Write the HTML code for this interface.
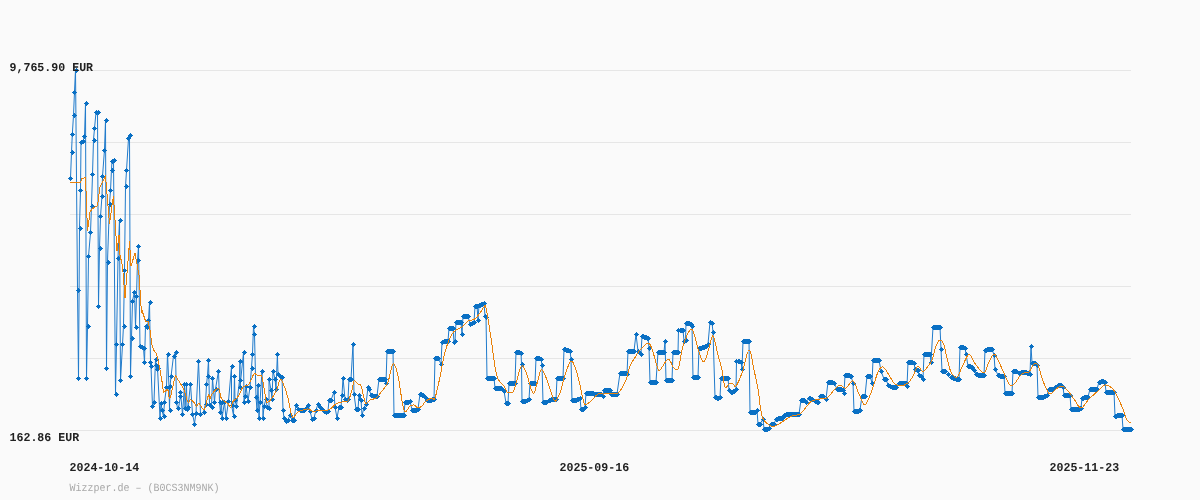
<!DOCTYPE html>
<html><head><meta charset="utf-8">
<style>
html,body{margin:0;padding:0;background:#fafafa;width:1200px;height:500px;overflow:hidden}
svg{display:block}
.t{font-family:"Liberation Mono",monospace;font-weight:bold;font-size:12px;fill:#222;text-rendering:geometricPrecision}
.w{font-family:"Liberation Mono",monospace;font-size:11px;fill:#a8a8a8;text-rendering:geometricPrecision}
</style></head><body>
<svg width="1200" height="500" viewBox="0 0 1200 500" style="will-change:transform">
<g stroke="#e6e6e6" stroke-width="1" shape-rendering="crispEdges">
<line x1="70" y1="70.5" x2="1131" y2="70.5"/>
<line x1="70" y1="142.5" x2="1131" y2="142.5"/>
<line x1="70" y1="214.5" x2="1131" y2="214.5"/>
<line x1="70" y1="286.5" x2="1131" y2="286.5"/>
<line x1="70" y1="358.5" x2="1131" y2="358.5"/>
<line x1="70" y1="430.5" x2="1131" y2="430.5"/>
</g>
<path d="M70.5 178.5 L71.5 152.2 L72.3 134.5 L73.5 115.3 L74.5 91.5 L75.5 69.5 L77.5 289.5 L78.5 378.5 L79.5 227.5 L80.5 190.5 L81 142.3 L83 141 L84.5 136.5 L85.5 103.3 L86.5 378.5 L87.5 326.5 L88.5 256.5 L90.5 232.5 L91.5 205.5 L92.5 174.5 L93.5 139.5 L94.5 128.5 L96 112.4 L97.5 111.5 L98.5 305.5 L99.5 248.5 L100.5 216.5 L102 195.5 L102.5 176.5 L104.5 149.5 L105.5 120.3 L106.5 368.5 L107.5 261.5 L109.5 203.5 L110.5 190.5 L111.5 169.5 L112 161 L113.5 159.5 L115.5 393.5 L116.5 343.5 L118 258 L119.5 219.5 L120.5 380.5 L122.5 344.5 L123.5 325.5 L124.5 270.5 L125.5 186.5 L126.5 170.5 L128.5 138.5 L129.5 135.3 L130.5 375.5 L131.5 337.5 L132.5 301 L134.5 291.5 L135.5 327 L136.5 296 L137.5 260.5 L138.5 246.5 L140 346 L142 347 L143.5 348 L144.5 362.5 L145.5 325.5 L147 327 L148.5 320.5 L149.5 302.5 L150.5 362 L151 366.5 L152.5 406.5 L154 401.5 L155.5 359 L156 365 L157 369 L157.5 368 L160 417.5 L161 403 L162 410 L163.5 416.5 L164.5 402 L166.5 387 L167.5 353.5 L169 387 L169.5 409.5 L170 386.5 L171 376.5 L173.5 356 L175.5 352.5 L176.5 401.5 L177.5 408.5 L178.5 408 L180.5 396 L180.5 392 L182.5 414.5 L184.5 384.5 L185 408 L186.5 384 L187 409 L188 407 L190.5 384 L192.5 414 L194.5 423.5 L196 413 L198.5 361 L200.5 414 L203.5 412 L205.5 404 L206.5 384.5 L207.5 375.5 L208.5 360 L209.5 405 L211.5 407 L212.5 378.5 L214.5 402 L215.5 389 L218.5 371 L219.5 402 L220.5 412.5 L221.5 402 L222 418.5 L224.5 402 L226 418.5 L228.5 401 L231.5 366.5 L231.5 405 L233.5 415.5 L234.5 376.5 L235 400 L236.5 406 L239.5 380.5 L240 361 L240 387 L243.5 352.5 L244 402 L245 396 L246 386 L248 401 L250 387 L251.5 367.5 L252.5 353.5 L253.5 326.5 L254.5 334.5 L256 397 L257 410 L258 385 L259 418 L260 402 L262 371 L263 418 L264 406 L266 399 L267 407 L269 408 L269 379 L271 390 L272 399 L273 371 L275 379 L276 389 L277.4 354 L278 374 L280 376 L282 377 L283 410 L284 418 L286 421 L288 420 L290 415 L292 420 L294 420 L296 405 L298 409 L300 410 L302 410 L304 410 L308 405 L310 411 L312 419 L314 418 L316 410 L318 404 L320 407 L322 409 L324 411 L326 412 L328 411 L329 400 L331 400 L334 392 L335 407 L337 418 L339 407 L341 407 L342 395 L343 378 L345 399 L347 400 L348 399 L349 379 L351 379 L353 344 L354 394 L356 409 L358 409 L359 395 L360 399 L361 400 L362 415 L364 408 L366 404 L368 387 L369 389 L371 395 L374 396 L377 396 L379 379 L382 379 L385 379 L386 383 L387 351 L390 351 L393 351 L394 415 L397 415 L400 415 L404 415 L405 402 L408 402 L410 401 L412 410 L415 410 L418 409 L420 394 L423 395 L425 397 L427 400 L430 400 L433 399 L434 399 L435 358 L438 358 L441 364 L442 342 L444 341 L448 341 L449 328 L451 328 L453 328 L454 342 L455 341 L456 322 L459 322 L461 322 L462 334 L463 316 L466 316 L468 316 L470 324 L472 323 L474 322 L475 306 L477 306 L478 320 L479 305 L482 304 L484 303 L485 316 L486 317 L487 378 L490 378 L494 378 L495 388 L498 388 L501 388 L503 390 L504 391 L506 403 L508 403 L509 383 L512 383 L515 383 L516 352 L519 352 L521 353 L521.5 364 L522 401 L525 401 L527 400 L529 399 L530 383 L533 383 L535 383 L536 358 L539 358 L541 359 L542 365 L543 402 L546 402 L549 400 L552 399 L556 399 L557 378 L560 378 L563 378 L564 349 L568 350 L570 351 L571 359 L572 400 L575 400 L578 399 L580 398 L581 409 L583 409 L585 407 L586 393 L589 393 L592 393 L595 394 L598 394 L601 394 L603 396 L604 390 L607 390 L610 390 L611 394 L614 394 L617 394 L620 373 L623 373 L626 373 L627 374 L628 351 L631 351 L634 351 L636 334 L638 351 L640 353 L641 354 L642 336 L645 337 L648 338 L649 348 L650 382 L653 382 L656 382 L658 352 L661 352 L664 352 L665 341 L666 380 L669 380 L672 380 L673 352 L676 352 L678 352 L678.5 330 L681 330 L683 330 L684 341 L685.5 340 L686 323 L689 323 L691 324 L692 326 L693 377 L696 377 L698 377 L699 348 L703 347 L706 346 L708 344 L710 322 L712 323 L713 332 L715 397 L718 398 L720 397 L721 378 L724 378 L728 378 L729 390 L731 392 L734 391 L736 389 L736.5 361 L739 361 L741 362 L742 369 L743 341 L746 341 L749 341 L750 412 L752 412 L755 412 L757 410 L758 424 L760 424 L763 419 L764 429 L767 429 L769 428 L771 424 L774 424 L776 419 L779 418 L782 418 L784 415 L788 414 L792 414 L796 414 L799 414 L801 400 L804 400 L806 402 L809 398 L812 399 L815 401 L818 402 L820 396 L823 396 L826 399 L828 382 L832 382 L834 383 L837 389 L841 389 L843 390 L844 393 L845 375 L848 375 L851 376 L853 383 L854 411 L857 411 L860 410 L862 396 L865 396 L867 376 L870 376 L872 383 L873 360 L876 360 L879 360 L881 371 L884 379 L886 379 L888 385 L892 387 L896 387 L899 383 L903 383 L906 383 L907 386 L908 362 L912 362 L914 363 L915 369 L918 370 L919 375 L921 376 L923 379 L924 354 L927 354 L930 354 L931 362 L933 327 L937 327 L940 327 L941 349 L942 371 L945 371 L948 374 L951 377 L954 378 L957 379 L959 379 L960 347 L963 347 L965 348 L966 354 L968 366 L972 367 L974 370 L976 374 L979 375 L982 375 L984 375 L985 350 L988 349 L992 349 L994 355 L995 369 L998 375 L1001 376 L1004 376 L1005 393 L1009 393 L1012 393 L1013 371 L1016 371 L1019 373 L1021 372 L1025 372 L1028 373 L1030 374 L1031 346 L1032 363 L1035 363 L1037 365 L1038 397 L1042 397 L1045 396 L1047 395 L1049 389 L1052 389 L1055 387 L1058 385 L1061 385 L1063 387 L1064 395 L1067 395 L1070 395 L1071 409 L1074 409 L1078 409 L1081 408 L1082 398 L1085 397 L1088 397 L1090 389 L1093 389 L1097 389 L1099 382 L1102 381 L1105 382 L1106 392 L1109 392 L1112 392 L1114 392 L1115 416 L1118 415 L1122 415 L1123 429 L1127 429 L1131 429" fill="none" stroke="#1f7acb" stroke-width="1" stroke-linejoin="round"/>
<path d="M70 176h1v1h1v1h1v1h-1v1h-1v1h-1v-1h-1v-1h-1v-1h1v-1h1zM72 150h1v1h1v1h1v1h-1v1h-1v1h-1v-1h-1v-1h-1v-1h1v-1h1zM72 132h1v1h1v1h1v1h-1v1h-1v1h-1v-1h-1v-1h-1v-1h1v-1h1zM74 113h1v1h1v1h1v1h-1v1h-1v1h-1v-1h-1v-1h-1v-1h1v-1h1zM74 90h1v1h1v1h1v1h-1v1h-1v1h-1v-1h-1v-1h-1v-1h1v-1h1zM76 68h1v1h1v1h1v1h-1v1h-1v1h-1v-1h-1v-1h-1v-1h1v-1h1zM78 288h1v1h1v1h1v1h-1v1h-1v1h-1v-1h-1v-1h-1v-1h1v-1h1zM78 376h1v1h1v1h1v1h-1v1h-1v1h-1v-1h-1v-1h-1v-1h1v-1h1zM80 226h1v1h1v1h1v1h-1v1h-1v1h-1v-1h-1v-1h-1v-1h1v-1h1zM80 188h1v1h1v1h1v1h-1v1h-1v1h-1v-1h-1v-1h-1v-1h1v-1h1zM81 140h1v1h1v1h1v1h-1v1h-1v1h-1v-1h-1v-1h-1v-1h1v-1h1zM83 139h1v1h1v1h1v1h-1v1h-1v1h-1v-1h-1v-1h-1v-1h1v-1h1zM84 134h1v1h1v1h1v1h-1v1h-1v1h-1v-1h-1v-1h-1v-1h1v-1h1zM86 101h1v1h1v1h1v1h-1v1h-1v1h-1v-1h-1v-1h-1v-1h1v-1h1zM86 376h1v1h1v1h1v1h-1v1h-1v1h-1v-1h-1v-1h-1v-1h1v-1h1zM88 324h1v1h1v1h1v1h-1v1h-1v1h-1v-1h-1v-1h-1v-1h1v-1h1zM88 254h1v1h1v1h1v1h-1v1h-1v1h-1v-1h-1v-1h-1v-1h1v-1h1zM90 230h1v1h1v1h1v1h-1v1h-1v1h-1v-1h-1v-1h-1v-1h1v-1h1zM92 204h1v1h1v1h1v1h-1v1h-1v1h-1v-1h-1v-1h-1v-1h1v-1h1zM92 172h1v1h1v1h1v1h-1v1h-1v1h-1v-1h-1v-1h-1v-1h1v-1h1zM94 138h1v1h1v1h1v1h-1v1h-1v1h-1v-1h-1v-1h-1v-1h1v-1h1zM94 126h1v1h1v1h1v1h-1v1h-1v1h-1v-1h-1v-1h-1v-1h1v-1h1zM96 110h1v1h1v1h1v1h-1v1h-1v1h-1v-1h-1v-1h-1v-1h1v-1h1zM98 110h1v1h1v1h1v1h-1v1h-1v1h-1v-1h-1v-1h-1v-1h1v-1h1zM98 304h1v1h1v1h1v1h-1v1h-1v1h-1v-1h-1v-1h-1v-1h1v-1h1zM100 246h1v1h1v1h1v1h-1v1h-1v1h-1v-1h-1v-1h-1v-1h1v-1h1zM100 214h1v1h1v1h1v1h-1v1h-1v1h-1v-1h-1v-1h-1v-1h1v-1h1zM102 194h1v1h1v1h1v1h-1v1h-1v1h-1v-1h-1v-1h-1v-1h1v-1h1zM102 174h1v1h1v1h1v1h-1v1h-1v1h-1v-1h-1v-1h-1v-1h1v-1h1zM104 148h1v1h1v1h1v1h-1v1h-1v1h-1v-1h-1v-1h-1v-1h1v-1h1zM106 118h1v1h1v1h1v1h-1v1h-1v1h-1v-1h-1v-1h-1v-1h1v-1h1zM106 366h1v1h1v1h1v1h-1v1h-1v1h-1v-1h-1v-1h-1v-1h1v-1h1zM108 260h1v1h1v1h1v1h-1v1h-1v1h-1v-1h-1v-1h-1v-1h1v-1h1zM110 202h1v1h1v1h1v1h-1v1h-1v1h-1v-1h-1v-1h-1v-1h1v-1h1zM110 188h1v1h1v1h1v1h-1v1h-1v1h-1v-1h-1v-1h-1v-1h1v-1h1zM112 168h1v1h1v1h1v1h-1v1h-1v1h-1v-1h-1v-1h-1v-1h1v-1h1zM112 159h1v1h1v1h1v1h-1v1h-1v1h-1v-1h-1v-1h-1v-1h1v-1h1zM114 158h1v1h1v1h1v1h-1v1h-1v1h-1v-1h-1v-1h-1v-1h1v-1h1zM116 392h1v1h1v1h1v1h-1v1h-1v1h-1v-1h-1v-1h-1v-1h1v-1h1zM116 342h1v1h1v1h1v1h-1v1h-1v1h-1v-1h-1v-1h-1v-1h1v-1h1zM118 256h1v1h1v1h1v1h-1v1h-1v1h-1v-1h-1v-1h-1v-1h1v-1h1zM120 218h1v1h1v1h1v1h-1v1h-1v1h-1v-1h-1v-1h-1v-1h1v-1h1zM120 378h1v1h1v1h1v1h-1v1h-1v1h-1v-1h-1v-1h-1v-1h1v-1h1zM122 342h1v1h1v1h1v1h-1v1h-1v1h-1v-1h-1v-1h-1v-1h1v-1h1zM124 324h1v1h1v1h1v1h-1v1h-1v1h-1v-1h-1v-1h-1v-1h1v-1h1zM124 268h1v1h1v1h1v1h-1v1h-1v1h-1v-1h-1v-1h-1v-1h1v-1h1zM126 184h1v1h1v1h1v1h-1v1h-1v1h-1v-1h-1v-1h-1v-1h1v-1h1zM126 168h1v1h1v1h1v1h-1v1h-1v1h-1v-1h-1v-1h-1v-1h1v-1h1zM128 136h1v1h1v1h1v1h-1v1h-1v1h-1v-1h-1v-1h-1v-1h1v-1h1zM130 133h1v1h1v1h1v1h-1v1h-1v1h-1v-1h-1v-1h-1v-1h1v-1h1zM130 374h1v1h1v1h1v1h-1v1h-1v1h-1v-1h-1v-1h-1v-1h1v-1h1zM132 336h1v1h1v1h1v1h-1v1h-1v1h-1v-1h-1v-1h-1v-1h1v-1h1zM132 299h1v1h1v1h1v1h-1v1h-1v1h-1v-1h-1v-1h-1v-1h1v-1h1zM134 290h1v1h1v1h1v1h-1v1h-1v1h-1v-1h-1v-1h-1v-1h1v-1h1zM136 325h1v1h1v1h1v1h-1v1h-1v1h-1v-1h-1v-1h-1v-1h1v-1h1zM136 294h1v1h1v1h1v1h-1v1h-1v1h-1v-1h-1v-1h-1v-1h1v-1h1zM138 258h1v1h1v1h1v1h-1v1h-1v1h-1v-1h-1v-1h-1v-1h1v-1h1zM138 244h1v1h1v1h1v1h-1v1h-1v1h-1v-1h-1v-1h-1v-1h1v-1h1zM140 344h1v1h1v1h1v1h-1v1h-1v1h-1v-1h-1v-1h-1v-1h1v-1h1zM142 345h1v1h1v1h1v1h-1v1h-1v1h-1v-1h-1v-1h-1v-1h1v-1h1zM144 346h1v1h1v1h1v1h-1v1h-1v1h-1v-1h-1v-1h-1v-1h1v-1h1zM144 360h1v1h1v1h1v1h-1v1h-1v1h-1v-1h-1v-1h-1v-1h1v-1h1zM146 324h1v1h1v1h1v1h-1v1h-1v1h-1v-1h-1v-1h-1v-1h1v-1h1zM147 325h1v1h1v1h1v1h-1v1h-1v1h-1v-1h-1v-1h-1v-1h1v-1h1zM148 318h1v1h1v1h1v1h-1v1h-1v1h-1v-1h-1v-1h-1v-1h1v-1h1zM150 300h1v1h1v1h1v1h-1v1h-1v1h-1v-1h-1v-1h-1v-1h1v-1h1zM150 360h1v1h1v1h1v1h-1v1h-1v1h-1v-1h-1v-1h-1v-1h1v-1h1zM151 364h1v1h1v1h1v1h-1v1h-1v1h-1v-1h-1v-1h-1v-1h1v-1h1zM152 404h1v1h1v1h1v1h-1v1h-1v1h-1v-1h-1v-1h-1v-1h1v-1h1zM154 400h1v1h1v1h1v1h-1v1h-1v1h-1v-1h-1v-1h-1v-1h1v-1h1zM156 357h1v1h1v1h1v1h-1v1h-1v1h-1v-1h-1v-1h-1v-1h1v-1h1zM156 363h1v1h1v1h1v1h-1v1h-1v1h-1v-1h-1v-1h-1v-1h1v-1h1zM157 367h1v1h1v1h1v1h-1v1h-1v1h-1v-1h-1v-1h-1v-1h1v-1h1zM158 366h1v1h1v1h1v1h-1v1h-1v1h-1v-1h-1v-1h-1v-1h1v-1h1zM160 416h1v1h1v1h1v1h-1v1h-1v1h-1v-1h-1v-1h-1v-1h1v-1h1zM161 401h1v1h1v1h1v1h-1v1h-1v1h-1v-1h-1v-1h-1v-1h1v-1h1zM162 408h1v1h1v1h1v1h-1v1h-1v1h-1v-1h-1v-1h-1v-1h1v-1h1zM164 414h1v1h1v1h1v1h-1v1h-1v1h-1v-1h-1v-1h-1v-1h1v-1h1zM164 400h1v1h1v1h1v1h-1v1h-1v1h-1v-1h-1v-1h-1v-1h1v-1h1zM166 385h1v1h1v1h1v1h-1v1h-1v1h-1v-1h-1v-1h-1v-1h1v-1h1zM168 352h1v1h1v1h1v1h-1v1h-1v1h-1v-1h-1v-1h-1v-1h1v-1h1zM169 385h1v1h1v1h1v1h-1v1h-1v1h-1v-1h-1v-1h-1v-1h1v-1h1zM170 408h1v1h1v1h1v1h-1v1h-1v1h-1v-1h-1v-1h-1v-1h1v-1h1zM170 384h1v1h1v1h1v1h-1v1h-1v1h-1v-1h-1v-1h-1v-1h1v-1h1zM171 374h1v1h1v1h1v1h-1v1h-1v1h-1v-1h-1v-1h-1v-1h1v-1h1zM174 354h1v1h1v1h1v1h-1v1h-1v1h-1v-1h-1v-1h-1v-1h1v-1h1zM176 350h1v1h1v1h1v1h-1v1h-1v1h-1v-1h-1v-1h-1v-1h1v-1h1zM176 400h1v1h1v1h1v1h-1v1h-1v1h-1v-1h-1v-1h-1v-1h1v-1h1zM178 406h1v1h1v1h1v1h-1v1h-1v1h-1v-1h-1v-1h-1v-1h1v-1h1zM178 406h1v1h1v1h1v1h-1v1h-1v1h-1v-1h-1v-1h-1v-1h1v-1h1zM180 394h1v1h1v1h1v1h-1v1h-1v1h-1v-1h-1v-1h-1v-1h1v-1h1zM180 390h1v1h1v1h1v1h-1v1h-1v1h-1v-1h-1v-1h-1v-1h1v-1h1zM182 412h1v1h1v1h1v1h-1v1h-1v1h-1v-1h-1v-1h-1v-1h1v-1h1zM184 382h1v1h1v1h1v1h-1v1h-1v1h-1v-1h-1v-1h-1v-1h1v-1h1zM185 406h1v1h1v1h1v1h-1v1h-1v1h-1v-1h-1v-1h-1v-1h1v-1h1zM186 382h1v1h1v1h1v1h-1v1h-1v1h-1v-1h-1v-1h-1v-1h1v-1h1zM187 407h1v1h1v1h1v1h-1v1h-1v1h-1v-1h-1v-1h-1v-1h1v-1h1zM188 405h1v1h1v1h1v1h-1v1h-1v1h-1v-1h-1v-1h-1v-1h1v-1h1zM190 382h1v1h1v1h1v1h-1v1h-1v1h-1v-1h-1v-1h-1v-1h1v-1h1zM192 412h1v1h1v1h1v1h-1v1h-1v1h-1v-1h-1v-1h-1v-1h1v-1h1zM194 422h1v1h1v1h1v1h-1v1h-1v1h-1v-1h-1v-1h-1v-1h1v-1h1zM196 411h1v1h1v1h1v1h-1v1h-1v1h-1v-1h-1v-1h-1v-1h1v-1h1zM198 359h1v1h1v1h1v1h-1v1h-1v1h-1v-1h-1v-1h-1v-1h1v-1h1zM200 412h1v1h1v1h1v1h-1v1h-1v1h-1v-1h-1v-1h-1v-1h1v-1h1zM204 410h1v1h1v1h1v1h-1v1h-1v1h-1v-1h-1v-1h-1v-1h1v-1h1zM206 402h1v1h1v1h1v1h-1v1h-1v1h-1v-1h-1v-1h-1v-1h1v-1h1zM206 382h1v1h1v1h1v1h-1v1h-1v1h-1v-1h-1v-1h-1v-1h1v-1h1zM208 374h1v1h1v1h1v1h-1v1h-1v1h-1v-1h-1v-1h-1v-1h1v-1h1zM208 358h1v1h1v1h1v1h-1v1h-1v1h-1v-1h-1v-1h-1v-1h1v-1h1zM210 403h1v1h1v1h1v1h-1v1h-1v1h-1v-1h-1v-1h-1v-1h1v-1h1zM212 405h1v1h1v1h1v1h-1v1h-1v1h-1v-1h-1v-1h-1v-1h1v-1h1zM212 376h1v1h1v1h1v1h-1v1h-1v1h-1v-1h-1v-1h-1v-1h1v-1h1zM214 400h1v1h1v1h1v1h-1v1h-1v1h-1v-1h-1v-1h-1v-1h1v-1h1zM216 387h1v1h1v1h1v1h-1v1h-1v1h-1v-1h-1v-1h-1v-1h1v-1h1zM218 369h1v1h1v1h1v1h-1v1h-1v1h-1v-1h-1v-1h-1v-1h1v-1h1zM220 400h1v1h1v1h1v1h-1v1h-1v1h-1v-1h-1v-1h-1v-1h1v-1h1zM220 410h1v1h1v1h1v1h-1v1h-1v1h-1v-1h-1v-1h-1v-1h1v-1h1zM222 400h1v1h1v1h1v1h-1v1h-1v1h-1v-1h-1v-1h-1v-1h1v-1h1zM222 416h1v1h1v1h1v1h-1v1h-1v1h-1v-1h-1v-1h-1v-1h1v-1h1zM224 400h1v1h1v1h1v1h-1v1h-1v1h-1v-1h-1v-1h-1v-1h1v-1h1zM226 416h1v1h1v1h1v1h-1v1h-1v1h-1v-1h-1v-1h-1v-1h1v-1h1zM228 399h1v1h1v1h1v1h-1v1h-1v1h-1v-1h-1v-1h-1v-1h1v-1h1zM232 364h1v1h1v1h1v1h-1v1h-1v1h-1v-1h-1v-1h-1v-1h1v-1h1zM232 403h1v1h1v1h1v1h-1v1h-1v1h-1v-1h-1v-1h-1v-1h1v-1h1zM234 414h1v1h1v1h1v1h-1v1h-1v1h-1v-1h-1v-1h-1v-1h1v-1h1zM234 374h1v1h1v1h1v1h-1v1h-1v1h-1v-1h-1v-1h-1v-1h1v-1h1zM235 398h1v1h1v1h1v1h-1v1h-1v1h-1v-1h-1v-1h-1v-1h1v-1h1zM236 404h1v1h1v1h1v1h-1v1h-1v1h-1v-1h-1v-1h-1v-1h1v-1h1zM240 378h1v1h1v1h1v1h-1v1h-1v1h-1v-1h-1v-1h-1v-1h1v-1h1zM240 359h1v1h1v1h1v1h-1v1h-1v1h-1v-1h-1v-1h-1v-1h1v-1h1zM240 385h1v1h1v1h1v1h-1v1h-1v1h-1v-1h-1v-1h-1v-1h1v-1h1zM244 350h1v1h1v1h1v1h-1v1h-1v1h-1v-1h-1v-1h-1v-1h1v-1h1zM244 400h1v1h1v1h1v1h-1v1h-1v1h-1v-1h-1v-1h-1v-1h1v-1h1zM245 394h1v1h1v1h1v1h-1v1h-1v1h-1v-1h-1v-1h-1v-1h1v-1h1zM246 384h1v1h1v1h1v1h-1v1h-1v1h-1v-1h-1v-1h-1v-1h1v-1h1zM248 399h1v1h1v1h1v1h-1v1h-1v1h-1v-1h-1v-1h-1v-1h1v-1h1zM250 385h1v1h1v1h1v1h-1v1h-1v1h-1v-1h-1v-1h-1v-1h1v-1h1zM252 366h1v1h1v1h1v1h-1v1h-1v1h-1v-1h-1v-1h-1v-1h1v-1h1zM252 352h1v1h1v1h1v1h-1v1h-1v1h-1v-1h-1v-1h-1v-1h1v-1h1zM254 324h1v1h1v1h1v1h-1v1h-1v1h-1v-1h-1v-1h-1v-1h1v-1h1zM254 332h1v1h1v1h1v1h-1v1h-1v1h-1v-1h-1v-1h-1v-1h1v-1h1zM256 395h1v1h1v1h1v1h-1v1h-1v1h-1v-1h-1v-1h-1v-1h1v-1h1zM257 408h1v1h1v1h1v1h-1v1h-1v1h-1v-1h-1v-1h-1v-1h1v-1h1zM258 383h1v1h1v1h1v1h-1v1h-1v1h-1v-1h-1v-1h-1v-1h1v-1h1zM259 416h1v1h1v1h1v1h-1v1h-1v1h-1v-1h-1v-1h-1v-1h1v-1h1zM260 400h1v1h1v1h1v1h-1v1h-1v1h-1v-1h-1v-1h-1v-1h1v-1h1zM262 369h1v1h1v1h1v1h-1v1h-1v1h-1v-1h-1v-1h-1v-1h1v-1h1zM263 416h1v1h1v1h1v1h-1v1h-1v1h-1v-1h-1v-1h-1v-1h1v-1h1zM264 404h1v1h1v1h1v1h-1v1h-1v1h-1v-1h-1v-1h-1v-1h1v-1h1zM266 397h1v1h1v1h1v1h-1v1h-1v1h-1v-1h-1v-1h-1v-1h1v-1h1zM267 405h1v1h1v1h1v1h-1v1h-1v1h-1v-1h-1v-1h-1v-1h1v-1h1zM269 406h1v1h1v1h1v1h-1v1h-1v1h-1v-1h-1v-1h-1v-1h1v-1h1zM269 377h1v1h1v1h1v1h-1v1h-1v1h-1v-1h-1v-1h-1v-1h1v-1h1zM271 388h1v1h1v1h1v1h-1v1h-1v1h-1v-1h-1v-1h-1v-1h1v-1h1zM272 397h1v1h1v1h1v1h-1v1h-1v1h-1v-1h-1v-1h-1v-1h1v-1h1zM273 369h1v1h1v1h1v1h-1v1h-1v1h-1v-1h-1v-1h-1v-1h1v-1h1zM275 377h1v1h1v1h1v1h-1v1h-1v1h-1v-1h-1v-1h-1v-1h1v-1h1zM276 387h1v1h1v1h1v1h-1v1h-1v1h-1v-1h-1v-1h-1v-1h1v-1h1zM277 352h1v1h1v1h1v1h-1v1h-1v1h-1v-1h-1v-1h-1v-1h1v-1h1zM278 372h1v1h1v1h1v1h-1v1h-1v1h-1v-1h-1v-1h-1v-1h1v-1h1zM280 374h1v1h1v1h1v1h-1v1h-1v1h-1v-1h-1v-1h-1v-1h1v-1h1zM282 375h1v1h1v1h1v1h-1v1h-1v1h-1v-1h-1v-1h-1v-1h1v-1h1zM283 408h1v1h1v1h1v1h-1v1h-1v1h-1v-1h-1v-1h-1v-1h1v-1h1zM284 416h1v1h1v1h1v1h-1v1h-1v1h-1v-1h-1v-1h-1v-1h1v-1h1zM286 419h1v1h1v1h1v1h-1v1h-1v1h-1v-1h-1v-1h-1v-1h1v-1h1zM288 418h1v1h1v1h1v1h-1v1h-1v1h-1v-1h-1v-1h-1v-1h1v-1h1zM290 413h1v1h1v1h1v1h-1v1h-1v1h-1v-1h-1v-1h-1v-1h1v-1h1zM292 418h1v1h1v1h1v1h-1v1h-1v1h-1v-1h-1v-1h-1v-1h1v-1h1zM293 418h1v1h1v1h1v1h-1v1h-1v1h-1v-1h-1v-1h-1v-1h1v-1h1zM294 418h1v1h1v1h1v1h-1v1h-1v1h-1v-1h-1v-1h-1v-1h1v-1h1zM296 403h1v1h1v1h1v1h-1v1h-1v1h-1v-1h-1v-1h-1v-1h1v-1h1zM298 407h1v1h1v1h1v1h-1v1h-1v1h-1v-1h-1v-1h-1v-1h1v-1h1zM300 408h1v1h1v1h1v1h-1v1h-1v1h-1v-1h-1v-1h-1v-1h1v-1h1zM301 408h1v1h1v1h1v1h-1v1h-1v1h-1v-1h-1v-1h-1v-1h1v-1h1zM302 408h1v1h1v1h1v1h-1v1h-1v1h-1v-1h-1v-1h-1v-1h1v-1h1zM303 408h1v1h1v1h1v1h-1v1h-1v1h-1v-1h-1v-1h-1v-1h1v-1h1zM304 408h1v1h1v1h1v1h-1v1h-1v1h-1v-1h-1v-1h-1v-1h1v-1h1zM306 406h1v1h1v1h1v1h-1v1h-1v1h-1v-1h-1v-1h-1v-1h1v-1h1zM308 403h1v1h1v1h1v1h-1v1h-1v1h-1v-1h-1v-1h-1v-1h1v-1h1zM310 409h1v1h1v1h1v1h-1v1h-1v1h-1v-1h-1v-1h-1v-1h1v-1h1zM312 417h1v1h1v1h1v1h-1v1h-1v1h-1v-1h-1v-1h-1v-1h1v-1h1zM314 416h1v1h1v1h1v1h-1v1h-1v1h-1v-1h-1v-1h-1v-1h1v-1h1zM316 408h1v1h1v1h1v1h-1v1h-1v1h-1v-1h-1v-1h-1v-1h1v-1h1zM318 402h1v1h1v1h1v1h-1v1h-1v1h-1v-1h-1v-1h-1v-1h1v-1h1zM320 405h1v1h1v1h1v1h-1v1h-1v1h-1v-1h-1v-1h-1v-1h1v-1h1zM322 407h1v1h1v1h1v1h-1v1h-1v1h-1v-1h-1v-1h-1v-1h1v-1h1zM324 409h1v1h1v1h1v1h-1v1h-1v1h-1v-1h-1v-1h-1v-1h1v-1h1zM326 410h1v1h1v1h1v1h-1v1h-1v1h-1v-1h-1v-1h-1v-1h1v-1h1zM328 409h1v1h1v1h1v1h-1v1h-1v1h-1v-1h-1v-1h-1v-1h1v-1h1zM329 398h1v1h1v1h1v1h-1v1h-1v1h-1v-1h-1v-1h-1v-1h1v-1h1zM330 398h1v1h1v1h1v1h-1v1h-1v1h-1v-1h-1v-1h-1v-1h1v-1h1zM331 398h1v1h1v1h1v1h-1v1h-1v1h-1v-1h-1v-1h-1v-1h1v-1h1zM334 390h1v1h1v1h1v1h-1v1h-1v1h-1v-1h-1v-1h-1v-1h1v-1h1zM335 405h1v1h1v1h1v1h-1v1h-1v1h-1v-1h-1v-1h-1v-1h1v-1h1zM337 416h1v1h1v1h1v1h-1v1h-1v1h-1v-1h-1v-1h-1v-1h1v-1h1zM339 405h1v1h1v1h1v1h-1v1h-1v1h-1v-1h-1v-1h-1v-1h1v-1h1zM340 405h1v1h1v1h1v1h-1v1h-1v1h-1v-1h-1v-1h-1v-1h1v-1h1zM341 405h1v1h1v1h1v1h-1v1h-1v1h-1v-1h-1v-1h-1v-1h1v-1h1zM342 393h1v1h1v1h1v1h-1v1h-1v1h-1v-1h-1v-1h-1v-1h1v-1h1zM343 376h1v1h1v1h1v1h-1v1h-1v1h-1v-1h-1v-1h-1v-1h1v-1h1zM345 397h1v1h1v1h1v1h-1v1h-1v1h-1v-1h-1v-1h-1v-1h1v-1h1zM347 398h1v1h1v1h1v1h-1v1h-1v1h-1v-1h-1v-1h-1v-1h1v-1h1zM348 397h1v1h1v1h1v1h-1v1h-1v1h-1v-1h-1v-1h-1v-1h1v-1h1zM349 377h1v1h1v1h1v1h-1v1h-1v1h-1v-1h-1v-1h-1v-1h1v-1h1zM350 377h1v1h1v1h1v1h-1v1h-1v1h-1v-1h-1v-1h-1v-1h1v-1h1zM351 377h1v1h1v1h1v1h-1v1h-1v1h-1v-1h-1v-1h-1v-1h1v-1h1zM353 342h1v1h1v1h1v1h-1v1h-1v1h-1v-1h-1v-1h-1v-1h1v-1h1zM354 392h1v1h1v1h1v1h-1v1h-1v1h-1v-1h-1v-1h-1v-1h1v-1h1zM356 407h1v1h1v1h1v1h-1v1h-1v1h-1v-1h-1v-1h-1v-1h1v-1h1zM357 407h1v1h1v1h1v1h-1v1h-1v1h-1v-1h-1v-1h-1v-1h1v-1h1zM358 407h1v1h1v1h1v1h-1v1h-1v1h-1v-1h-1v-1h-1v-1h1v-1h1zM359 393h1v1h1v1h1v1h-1v1h-1v1h-1v-1h-1v-1h-1v-1h1v-1h1zM360 397h1v1h1v1h1v1h-1v1h-1v1h-1v-1h-1v-1h-1v-1h1v-1h1zM361 398h1v1h1v1h1v1h-1v1h-1v1h-1v-1h-1v-1h-1v-1h1v-1h1zM362 413h1v1h1v1h1v1h-1v1h-1v1h-1v-1h-1v-1h-1v-1h1v-1h1zM364 406h1v1h1v1h1v1h-1v1h-1v1h-1v-1h-1v-1h-1v-1h1v-1h1zM366 402h1v1h1v1h1v1h-1v1h-1v1h-1v-1h-1v-1h-1v-1h1v-1h1zM368 385h1v1h1v1h1v1h-1v1h-1v1h-1v-1h-1v-1h-1v-1h1v-1h1zM369 387h1v1h1v1h1v1h-1v1h-1v1h-1v-1h-1v-1h-1v-1h1v-1h1zM371 393h1v1h1v1h1v1h-1v1h-1v1h-1v-1h-1v-1h-1v-1h1v-1h1zM372 393h1v1h1v1h1v1h-1v1h-1v1h-1v-1h-1v-1h-1v-1h1v-1h1zM373 394h1v1h1v1h1v1h-1v1h-1v1h-1v-1h-1v-1h-1v-1h1v-1h1zM374 394h1v1h1v1h1v1h-1v1h-1v1h-1v-1h-1v-1h-1v-1h1v-1h1zM375 394h1v1h1v1h1v1h-1v1h-1v1h-1v-1h-1v-1h-1v-1h1v-1h1zM376 394h1v1h1v1h1v1h-1v1h-1v1h-1v-1h-1v-1h-1v-1h1v-1h1zM377 394h1v1h1v1h1v1h-1v1h-1v1h-1v-1h-1v-1h-1v-1h1v-1h1zM379 377h1v1h1v1h1v1h-1v1h-1v1h-1v-1h-1v-1h-1v-1h1v-1h1zM380 377h1v1h1v1h1v1h-1v1h-1v1h-1v-1h-1v-1h-1v-1h1v-1h1zM381 377h1v1h1v1h1v1h-1v1h-1v1h-1v-1h-1v-1h-1v-1h1v-1h1zM382 377h1v1h1v1h1v1h-1v1h-1v1h-1v-1h-1v-1h-1v-1h1v-1h1zM383 377h1v1h1v1h1v1h-1v1h-1v1h-1v-1h-1v-1h-1v-1h1v-1h1zM384 377h1v1h1v1h1v1h-1v1h-1v1h-1v-1h-1v-1h-1v-1h1v-1h1zM385 377h1v1h1v1h1v1h-1v1h-1v1h-1v-1h-1v-1h-1v-1h1v-1h1zM386 381h1v1h1v1h1v1h-1v1h-1v1h-1v-1h-1v-1h-1v-1h1v-1h1zM387 349h1v1h1v1h1v1h-1v1h-1v1h-1v-1h-1v-1h-1v-1h1v-1h1zM388 349h1v1h1v1h1v1h-1v1h-1v1h-1v-1h-1v-1h-1v-1h1v-1h1zM389 349h1v1h1v1h1v1h-1v1h-1v1h-1v-1h-1v-1h-1v-1h1v-1h1zM390 349h1v1h1v1h1v1h-1v1h-1v1h-1v-1h-1v-1h-1v-1h1v-1h1zM391 349h1v1h1v1h1v1h-1v1h-1v1h-1v-1h-1v-1h-1v-1h1v-1h1zM392 349h1v1h1v1h1v1h-1v1h-1v1h-1v-1h-1v-1h-1v-1h1v-1h1zM393 349h1v1h1v1h1v1h-1v1h-1v1h-1v-1h-1v-1h-1v-1h1v-1h1zM394 413h1v1h1v1h1v1h-1v1h-1v1h-1v-1h-1v-1h-1v-1h1v-1h1zM395 413h1v1h1v1h1v1h-1v1h-1v1h-1v-1h-1v-1h-1v-1h1v-1h1zM396 413h1v1h1v1h1v1h-1v1h-1v1h-1v-1h-1v-1h-1v-1h1v-1h1zM397 413h1v1h1v1h1v1h-1v1h-1v1h-1v-1h-1v-1h-1v-1h1v-1h1zM398 413h1v1h1v1h1v1h-1v1h-1v1h-1v-1h-1v-1h-1v-1h1v-1h1zM399 413h1v1h1v1h1v1h-1v1h-1v1h-1v-1h-1v-1h-1v-1h1v-1h1zM400 413h1v1h1v1h1v1h-1v1h-1v1h-1v-1h-1v-1h-1v-1h1v-1h1zM401 413h1v1h1v1h1v1h-1v1h-1v1h-1v-1h-1v-1h-1v-1h1v-1h1zM402 413h1v1h1v1h1v1h-1v1h-1v1h-1v-1h-1v-1h-1v-1h1v-1h1zM403 413h1v1h1v1h1v1h-1v1h-1v1h-1v-1h-1v-1h-1v-1h1v-1h1zM404 413h1v1h1v1h1v1h-1v1h-1v1h-1v-1h-1v-1h-1v-1h1v-1h1zM405 400h1v1h1v1h1v1h-1v1h-1v1h-1v-1h-1v-1h-1v-1h1v-1h1zM406 400h1v1h1v1h1v1h-1v1h-1v1h-1v-1h-1v-1h-1v-1h1v-1h1zM407 400h1v1h1v1h1v1h-1v1h-1v1h-1v-1h-1v-1h-1v-1h1v-1h1zM408 400h1v1h1v1h1v1h-1v1h-1v1h-1v-1h-1v-1h-1v-1h1v-1h1zM410 399h1v1h1v1h1v1h-1v1h-1v1h-1v-1h-1v-1h-1v-1h1v-1h1zM412 408h1v1h1v1h1v1h-1v1h-1v1h-1v-1h-1v-1h-1v-1h1v-1h1zM413 408h1v1h1v1h1v1h-1v1h-1v1h-1v-1h-1v-1h-1v-1h1v-1h1zM414 408h1v1h1v1h1v1h-1v1h-1v1h-1v-1h-1v-1h-1v-1h1v-1h1zM415 408h1v1h1v1h1v1h-1v1h-1v1h-1v-1h-1v-1h-1v-1h1v-1h1zM416 408h1v1h1v1h1v1h-1v1h-1v1h-1v-1h-1v-1h-1v-1h1v-1h1zM417 407h1v1h1v1h1v1h-1v1h-1v1h-1v-1h-1v-1h-1v-1h1v-1h1zM418 407h1v1h1v1h1v1h-1v1h-1v1h-1v-1h-1v-1h-1v-1h1v-1h1zM420 392h1v1h1v1h1v1h-1v1h-1v1h-1v-1h-1v-1h-1v-1h1v-1h1zM421 392h1v1h1v1h1v1h-1v1h-1v1h-1v-1h-1v-1h-1v-1h1v-1h1zM422 393h1v1h1v1h1v1h-1v1h-1v1h-1v-1h-1v-1h-1v-1h1v-1h1zM423 393h1v1h1v1h1v1h-1v1h-1v1h-1v-1h-1v-1h-1v-1h1v-1h1zM425 395h1v1h1v1h1v1h-1v1h-1v1h-1v-1h-1v-1h-1v-1h1v-1h1zM427 398h1v1h1v1h1v1h-1v1h-1v1h-1v-1h-1v-1h-1v-1h1v-1h1zM428 398h1v1h1v1h1v1h-1v1h-1v1h-1v-1h-1v-1h-1v-1h1v-1h1zM429 398h1v1h1v1h1v1h-1v1h-1v1h-1v-1h-1v-1h-1v-1h1v-1h1zM430 398h1v1h1v1h1v1h-1v1h-1v1h-1v-1h-1v-1h-1v-1h1v-1h1zM431 398h1v1h1v1h1v1h-1v1h-1v1h-1v-1h-1v-1h-1v-1h1v-1h1zM432 397h1v1h1v1h1v1h-1v1h-1v1h-1v-1h-1v-1h-1v-1h1v-1h1zM433 397h1v1h1v1h1v1h-1v1h-1v1h-1v-1h-1v-1h-1v-1h1v-1h1zM434 397h1v1h1v1h1v1h-1v1h-1v1h-1v-1h-1v-1h-1v-1h1v-1h1zM435 356h1v1h1v1h1v1h-1v1h-1v1h-1v-1h-1v-1h-1v-1h1v-1h1zM436 356h1v1h1v1h1v1h-1v1h-1v1h-1v-1h-1v-1h-1v-1h1v-1h1zM437 356h1v1h1v1h1v1h-1v1h-1v1h-1v-1h-1v-1h-1v-1h1v-1h1zM438 356h1v1h1v1h1v1h-1v1h-1v1h-1v-1h-1v-1h-1v-1h1v-1h1zM441 362h1v1h1v1h1v1h-1v1h-1v1h-1v-1h-1v-1h-1v-1h1v-1h1zM442 340h1v1h1v1h1v1h-1v1h-1v1h-1v-1h-1v-1h-1v-1h1v-1h1zM444 339h1v1h1v1h1v1h-1v1h-1v1h-1v-1h-1v-1h-1v-1h1v-1h1zM445 339h1v1h1v1h1v1h-1v1h-1v1h-1v-1h-1v-1h-1v-1h1v-1h1zM446 339h1v1h1v1h1v1h-1v1h-1v1h-1v-1h-1v-1h-1v-1h1v-1h1zM447 339h1v1h1v1h1v1h-1v1h-1v1h-1v-1h-1v-1h-1v-1h1v-1h1zM448 339h1v1h1v1h1v1h-1v1h-1v1h-1v-1h-1v-1h-1v-1h1v-1h1zM449 326h1v1h1v1h1v1h-1v1h-1v1h-1v-1h-1v-1h-1v-1h1v-1h1zM450 326h1v1h1v1h1v1h-1v1h-1v1h-1v-1h-1v-1h-1v-1h1v-1h1zM451 326h1v1h1v1h1v1h-1v1h-1v1h-1v-1h-1v-1h-1v-1h1v-1h1zM452 326h1v1h1v1h1v1h-1v1h-1v1h-1v-1h-1v-1h-1v-1h1v-1h1zM453 326h1v1h1v1h1v1h-1v1h-1v1h-1v-1h-1v-1h-1v-1h1v-1h1zM454 340h1v1h1v1h1v1h-1v1h-1v1h-1v-1h-1v-1h-1v-1h1v-1h1zM455 339h1v1h1v1h1v1h-1v1h-1v1h-1v-1h-1v-1h-1v-1h1v-1h1zM456 320h1v1h1v1h1v1h-1v1h-1v1h-1v-1h-1v-1h-1v-1h1v-1h1zM457 320h1v1h1v1h1v1h-1v1h-1v1h-1v-1h-1v-1h-1v-1h1v-1h1zM458 320h1v1h1v1h1v1h-1v1h-1v1h-1v-1h-1v-1h-1v-1h1v-1h1zM459 320h1v1h1v1h1v1h-1v1h-1v1h-1v-1h-1v-1h-1v-1h1v-1h1zM460 320h1v1h1v1h1v1h-1v1h-1v1h-1v-1h-1v-1h-1v-1h1v-1h1zM461 320h1v1h1v1h1v1h-1v1h-1v1h-1v-1h-1v-1h-1v-1h1v-1h1zM462 332h1v1h1v1h1v1h-1v1h-1v1h-1v-1h-1v-1h-1v-1h1v-1h1zM463 314h1v1h1v1h1v1h-1v1h-1v1h-1v-1h-1v-1h-1v-1h1v-1h1zM464 314h1v1h1v1h1v1h-1v1h-1v1h-1v-1h-1v-1h-1v-1h1v-1h1zM465 314h1v1h1v1h1v1h-1v1h-1v1h-1v-1h-1v-1h-1v-1h1v-1h1zM466 314h1v1h1v1h1v1h-1v1h-1v1h-1v-1h-1v-1h-1v-1h1v-1h1zM467 314h1v1h1v1h1v1h-1v1h-1v1h-1v-1h-1v-1h-1v-1h1v-1h1zM468 314h1v1h1v1h1v1h-1v1h-1v1h-1v-1h-1v-1h-1v-1h1v-1h1zM470 322h1v1h1v1h1v1h-1v1h-1v1h-1v-1h-1v-1h-1v-1h1v-1h1zM472 321h1v1h1v1h1v1h-1v1h-1v1h-1v-1h-1v-1h-1v-1h1v-1h1zM474 320h1v1h1v1h1v1h-1v1h-1v1h-1v-1h-1v-1h-1v-1h1v-1h1zM475 304h1v1h1v1h1v1h-1v1h-1v1h-1v-1h-1v-1h-1v-1h1v-1h1zM476 304h1v1h1v1h1v1h-1v1h-1v1h-1v-1h-1v-1h-1v-1h1v-1h1zM477 304h1v1h1v1h1v1h-1v1h-1v1h-1v-1h-1v-1h-1v-1h1v-1h1zM478 318h1v1h1v1h1v1h-1v1h-1v1h-1v-1h-1v-1h-1v-1h1v-1h1zM479 303h1v1h1v1h1v1h-1v1h-1v1h-1v-1h-1v-1h-1v-1h1v-1h1zM480 303h1v1h1v1h1v1h-1v1h-1v1h-1v-1h-1v-1h-1v-1h1v-1h1zM481 302h1v1h1v1h1v1h-1v1h-1v1h-1v-1h-1v-1h-1v-1h1v-1h1zM482 302h1v1h1v1h1v1h-1v1h-1v1h-1v-1h-1v-1h-1v-1h1v-1h1zM484 301h1v1h1v1h1v1h-1v1h-1v1h-1v-1h-1v-1h-1v-1h1v-1h1zM485 314h1v1h1v1h1v1h-1v1h-1v1h-1v-1h-1v-1h-1v-1h1v-1h1zM486 315h1v1h1v1h1v1h-1v1h-1v1h-1v-1h-1v-1h-1v-1h1v-1h1zM487 376h1v1h1v1h1v1h-1v1h-1v1h-1v-1h-1v-1h-1v-1h1v-1h1zM488 376h1v1h1v1h1v1h-1v1h-1v1h-1v-1h-1v-1h-1v-1h1v-1h1zM489 376h1v1h1v1h1v1h-1v1h-1v1h-1v-1h-1v-1h-1v-1h1v-1h1zM490 376h1v1h1v1h1v1h-1v1h-1v1h-1v-1h-1v-1h-1v-1h1v-1h1zM491 376h1v1h1v1h1v1h-1v1h-1v1h-1v-1h-1v-1h-1v-1h1v-1h1zM492 376h1v1h1v1h1v1h-1v1h-1v1h-1v-1h-1v-1h-1v-1h1v-1h1zM493 376h1v1h1v1h1v1h-1v1h-1v1h-1v-1h-1v-1h-1v-1h1v-1h1zM494 376h1v1h1v1h1v1h-1v1h-1v1h-1v-1h-1v-1h-1v-1h1v-1h1zM495 386h1v1h1v1h1v1h-1v1h-1v1h-1v-1h-1v-1h-1v-1h1v-1h1zM496 386h1v1h1v1h1v1h-1v1h-1v1h-1v-1h-1v-1h-1v-1h1v-1h1zM497 386h1v1h1v1h1v1h-1v1h-1v1h-1v-1h-1v-1h-1v-1h1v-1h1zM498 386h1v1h1v1h1v1h-1v1h-1v1h-1v-1h-1v-1h-1v-1h1v-1h1zM499 386h1v1h1v1h1v1h-1v1h-1v1h-1v-1h-1v-1h-1v-1h1v-1h1zM500 386h1v1h1v1h1v1h-1v1h-1v1h-1v-1h-1v-1h-1v-1h1v-1h1zM501 386h1v1h1v1h1v1h-1v1h-1v1h-1v-1h-1v-1h-1v-1h1v-1h1zM503 388h1v1h1v1h1v1h-1v1h-1v1h-1v-1h-1v-1h-1v-1h1v-1h1zM504 389h1v1h1v1h1v1h-1v1h-1v1h-1v-1h-1v-1h-1v-1h1v-1h1zM506 401h1v1h1v1h1v1h-1v1h-1v1h-1v-1h-1v-1h-1v-1h1v-1h1zM507 401h1v1h1v1h1v1h-1v1h-1v1h-1v-1h-1v-1h-1v-1h1v-1h1zM508 401h1v1h1v1h1v1h-1v1h-1v1h-1v-1h-1v-1h-1v-1h1v-1h1zM509 381h1v1h1v1h1v1h-1v1h-1v1h-1v-1h-1v-1h-1v-1h1v-1h1zM510 381h1v1h1v1h1v1h-1v1h-1v1h-1v-1h-1v-1h-1v-1h1v-1h1zM511 381h1v1h1v1h1v1h-1v1h-1v1h-1v-1h-1v-1h-1v-1h1v-1h1zM512 381h1v1h1v1h1v1h-1v1h-1v1h-1v-1h-1v-1h-1v-1h1v-1h1zM513 381h1v1h1v1h1v1h-1v1h-1v1h-1v-1h-1v-1h-1v-1h1v-1h1zM514 381h1v1h1v1h1v1h-1v1h-1v1h-1v-1h-1v-1h-1v-1h1v-1h1zM515 381h1v1h1v1h1v1h-1v1h-1v1h-1v-1h-1v-1h-1v-1h1v-1h1zM516 350h1v1h1v1h1v1h-1v1h-1v1h-1v-1h-1v-1h-1v-1h1v-1h1zM517 350h1v1h1v1h1v1h-1v1h-1v1h-1v-1h-1v-1h-1v-1h1v-1h1zM518 350h1v1h1v1h1v1h-1v1h-1v1h-1v-1h-1v-1h-1v-1h1v-1h1zM519 350h1v1h1v1h1v1h-1v1h-1v1h-1v-1h-1v-1h-1v-1h1v-1h1zM521 351h1v1h1v1h1v1h-1v1h-1v1h-1v-1h-1v-1h-1v-1h1v-1h1zM522 362h1v1h1v1h1v1h-1v1h-1v1h-1v-1h-1v-1h-1v-1h1v-1h1zM522 399h1v1h1v1h1v1h-1v1h-1v1h-1v-1h-1v-1h-1v-1h1v-1h1zM523 399h1v1h1v1h1v1h-1v1h-1v1h-1v-1h-1v-1h-1v-1h1v-1h1zM524 399h1v1h1v1h1v1h-1v1h-1v1h-1v-1h-1v-1h-1v-1h1v-1h1zM525 399h1v1h1v1h1v1h-1v1h-1v1h-1v-1h-1v-1h-1v-1h1v-1h1zM527 398h1v1h1v1h1v1h-1v1h-1v1h-1v-1h-1v-1h-1v-1h1v-1h1zM529 397h1v1h1v1h1v1h-1v1h-1v1h-1v-1h-1v-1h-1v-1h1v-1h1zM530 381h1v1h1v1h1v1h-1v1h-1v1h-1v-1h-1v-1h-1v-1h1v-1h1zM531 381h1v1h1v1h1v1h-1v1h-1v1h-1v-1h-1v-1h-1v-1h1v-1h1zM532 381h1v1h1v1h1v1h-1v1h-1v1h-1v-1h-1v-1h-1v-1h1v-1h1zM533 381h1v1h1v1h1v1h-1v1h-1v1h-1v-1h-1v-1h-1v-1h1v-1h1zM534 381h1v1h1v1h1v1h-1v1h-1v1h-1v-1h-1v-1h-1v-1h1v-1h1zM535 381h1v1h1v1h1v1h-1v1h-1v1h-1v-1h-1v-1h-1v-1h1v-1h1zM536 356h1v1h1v1h1v1h-1v1h-1v1h-1v-1h-1v-1h-1v-1h1v-1h1zM537 356h1v1h1v1h1v1h-1v1h-1v1h-1v-1h-1v-1h-1v-1h1v-1h1zM538 356h1v1h1v1h1v1h-1v1h-1v1h-1v-1h-1v-1h-1v-1h1v-1h1zM539 356h1v1h1v1h1v1h-1v1h-1v1h-1v-1h-1v-1h-1v-1h1v-1h1zM541 357h1v1h1v1h1v1h-1v1h-1v1h-1v-1h-1v-1h-1v-1h1v-1h1zM542 363h1v1h1v1h1v1h-1v1h-1v1h-1v-1h-1v-1h-1v-1h1v-1h1zM543 400h1v1h1v1h1v1h-1v1h-1v1h-1v-1h-1v-1h-1v-1h1v-1h1zM544 400h1v1h1v1h1v1h-1v1h-1v1h-1v-1h-1v-1h-1v-1h1v-1h1zM545 400h1v1h1v1h1v1h-1v1h-1v1h-1v-1h-1v-1h-1v-1h1v-1h1zM546 400h1v1h1v1h1v1h-1v1h-1v1h-1v-1h-1v-1h-1v-1h1v-1h1zM549 398h1v1h1v1h1v1h-1v1h-1v1h-1v-1h-1v-1h-1v-1h1v-1h1zM550 398h1v1h1v1h1v1h-1v1h-1v1h-1v-1h-1v-1h-1v-1h1v-1h1zM551 397h1v1h1v1h1v1h-1v1h-1v1h-1v-1h-1v-1h-1v-1h1v-1h1zM552 397h1v1h1v1h1v1h-1v1h-1v1h-1v-1h-1v-1h-1v-1h1v-1h1zM553 397h1v1h1v1h1v1h-1v1h-1v1h-1v-1h-1v-1h-1v-1h1v-1h1zM554 397h1v1h1v1h1v1h-1v1h-1v1h-1v-1h-1v-1h-1v-1h1v-1h1zM555 397h1v1h1v1h1v1h-1v1h-1v1h-1v-1h-1v-1h-1v-1h1v-1h1zM556 397h1v1h1v1h1v1h-1v1h-1v1h-1v-1h-1v-1h-1v-1h1v-1h1zM557 376h1v1h1v1h1v1h-1v1h-1v1h-1v-1h-1v-1h-1v-1h1v-1h1zM558 376h1v1h1v1h1v1h-1v1h-1v1h-1v-1h-1v-1h-1v-1h1v-1h1zM559 376h1v1h1v1h1v1h-1v1h-1v1h-1v-1h-1v-1h-1v-1h1v-1h1zM560 376h1v1h1v1h1v1h-1v1h-1v1h-1v-1h-1v-1h-1v-1h1v-1h1zM561 376h1v1h1v1h1v1h-1v1h-1v1h-1v-1h-1v-1h-1v-1h1v-1h1zM562 376h1v1h1v1h1v1h-1v1h-1v1h-1v-1h-1v-1h-1v-1h1v-1h1zM563 376h1v1h1v1h1v1h-1v1h-1v1h-1v-1h-1v-1h-1v-1h1v-1h1zM564 347h1v1h1v1h1v1h-1v1h-1v1h-1v-1h-1v-1h-1v-1h1v-1h1zM565 347h1v1h1v1h1v1h-1v1h-1v1h-1v-1h-1v-1h-1v-1h1v-1h1zM566 348h1v1h1v1h1v1h-1v1h-1v1h-1v-1h-1v-1h-1v-1h1v-1h1zM567 348h1v1h1v1h1v1h-1v1h-1v1h-1v-1h-1v-1h-1v-1h1v-1h1zM568 348h1v1h1v1h1v1h-1v1h-1v1h-1v-1h-1v-1h-1v-1h1v-1h1zM570 349h1v1h1v1h1v1h-1v1h-1v1h-1v-1h-1v-1h-1v-1h1v-1h1zM571 357h1v1h1v1h1v1h-1v1h-1v1h-1v-1h-1v-1h-1v-1h1v-1h1zM572 398h1v1h1v1h1v1h-1v1h-1v1h-1v-1h-1v-1h-1v-1h1v-1h1zM573 398h1v1h1v1h1v1h-1v1h-1v1h-1v-1h-1v-1h-1v-1h1v-1h1zM574 398h1v1h1v1h1v1h-1v1h-1v1h-1v-1h-1v-1h-1v-1h1v-1h1zM575 398h1v1h1v1h1v1h-1v1h-1v1h-1v-1h-1v-1h-1v-1h1v-1h1zM576 398h1v1h1v1h1v1h-1v1h-1v1h-1v-1h-1v-1h-1v-1h1v-1h1zM577 397h1v1h1v1h1v1h-1v1h-1v1h-1v-1h-1v-1h-1v-1h1v-1h1zM578 397h1v1h1v1h1v1h-1v1h-1v1h-1v-1h-1v-1h-1v-1h1v-1h1zM580 396h1v1h1v1h1v1h-1v1h-1v1h-1v-1h-1v-1h-1v-1h1v-1h1zM581 407h1v1h1v1h1v1h-1v1h-1v1h-1v-1h-1v-1h-1v-1h1v-1h1zM582 407h1v1h1v1h1v1h-1v1h-1v1h-1v-1h-1v-1h-1v-1h1v-1h1zM583 407h1v1h1v1h1v1h-1v1h-1v1h-1v-1h-1v-1h-1v-1h1v-1h1zM585 405h1v1h1v1h1v1h-1v1h-1v1h-1v-1h-1v-1h-1v-1h1v-1h1zM586 391h1v1h1v1h1v1h-1v1h-1v1h-1v-1h-1v-1h-1v-1h1v-1h1zM587 391h1v1h1v1h1v1h-1v1h-1v1h-1v-1h-1v-1h-1v-1h1v-1h1zM588 391h1v1h1v1h1v1h-1v1h-1v1h-1v-1h-1v-1h-1v-1h1v-1h1zM589 391h1v1h1v1h1v1h-1v1h-1v1h-1v-1h-1v-1h-1v-1h1v-1h1zM590 391h1v1h1v1h1v1h-1v1h-1v1h-1v-1h-1v-1h-1v-1h1v-1h1zM591 391h1v1h1v1h1v1h-1v1h-1v1h-1v-1h-1v-1h-1v-1h1v-1h1zM592 391h1v1h1v1h1v1h-1v1h-1v1h-1v-1h-1v-1h-1v-1h1v-1h1zM593 391h1v1h1v1h1v1h-1v1h-1v1h-1v-1h-1v-1h-1v-1h1v-1h1zM594 392h1v1h1v1h1v1h-1v1h-1v1h-1v-1h-1v-1h-1v-1h1v-1h1zM595 392h1v1h1v1h1v1h-1v1h-1v1h-1v-1h-1v-1h-1v-1h1v-1h1zM596 392h1v1h1v1h1v1h-1v1h-1v1h-1v-1h-1v-1h-1v-1h1v-1h1zM597 392h1v1h1v1h1v1h-1v1h-1v1h-1v-1h-1v-1h-1v-1h1v-1h1zM598 392h1v1h1v1h1v1h-1v1h-1v1h-1v-1h-1v-1h-1v-1h1v-1h1zM599 392h1v1h1v1h1v1h-1v1h-1v1h-1v-1h-1v-1h-1v-1h1v-1h1zM600 392h1v1h1v1h1v1h-1v1h-1v1h-1v-1h-1v-1h-1v-1h1v-1h1zM601 392h1v1h1v1h1v1h-1v1h-1v1h-1v-1h-1v-1h-1v-1h1v-1h1zM603 394h1v1h1v1h1v1h-1v1h-1v1h-1v-1h-1v-1h-1v-1h1v-1h1zM604 388h1v1h1v1h1v1h-1v1h-1v1h-1v-1h-1v-1h-1v-1h1v-1h1zM605 388h1v1h1v1h1v1h-1v1h-1v1h-1v-1h-1v-1h-1v-1h1v-1h1zM606 388h1v1h1v1h1v1h-1v1h-1v1h-1v-1h-1v-1h-1v-1h1v-1h1zM607 388h1v1h1v1h1v1h-1v1h-1v1h-1v-1h-1v-1h-1v-1h1v-1h1zM608 388h1v1h1v1h1v1h-1v1h-1v1h-1v-1h-1v-1h-1v-1h1v-1h1zM609 388h1v1h1v1h1v1h-1v1h-1v1h-1v-1h-1v-1h-1v-1h1v-1h1zM610 388h1v1h1v1h1v1h-1v1h-1v1h-1v-1h-1v-1h-1v-1h1v-1h1zM611 392h1v1h1v1h1v1h-1v1h-1v1h-1v-1h-1v-1h-1v-1h1v-1h1zM612 392h1v1h1v1h1v1h-1v1h-1v1h-1v-1h-1v-1h-1v-1h1v-1h1zM613 392h1v1h1v1h1v1h-1v1h-1v1h-1v-1h-1v-1h-1v-1h1v-1h1zM614 392h1v1h1v1h1v1h-1v1h-1v1h-1v-1h-1v-1h-1v-1h1v-1h1zM615 392h1v1h1v1h1v1h-1v1h-1v1h-1v-1h-1v-1h-1v-1h1v-1h1zM616 392h1v1h1v1h1v1h-1v1h-1v1h-1v-1h-1v-1h-1v-1h1v-1h1zM617 392h1v1h1v1h1v1h-1v1h-1v1h-1v-1h-1v-1h-1v-1h1v-1h1zM620 371h1v1h1v1h1v1h-1v1h-1v1h-1v-1h-1v-1h-1v-1h1v-1h1zM621 371h1v1h1v1h1v1h-1v1h-1v1h-1v-1h-1v-1h-1v-1h1v-1h1zM622 371h1v1h1v1h1v1h-1v1h-1v1h-1v-1h-1v-1h-1v-1h1v-1h1zM623 371h1v1h1v1h1v1h-1v1h-1v1h-1v-1h-1v-1h-1v-1h1v-1h1zM624 371h1v1h1v1h1v1h-1v1h-1v1h-1v-1h-1v-1h-1v-1h1v-1h1zM625 371h1v1h1v1h1v1h-1v1h-1v1h-1v-1h-1v-1h-1v-1h1v-1h1zM626 371h1v1h1v1h1v1h-1v1h-1v1h-1v-1h-1v-1h-1v-1h1v-1h1zM627 372h1v1h1v1h1v1h-1v1h-1v1h-1v-1h-1v-1h-1v-1h1v-1h1zM628 349h1v1h1v1h1v1h-1v1h-1v1h-1v-1h-1v-1h-1v-1h1v-1h1zM629 349h1v1h1v1h1v1h-1v1h-1v1h-1v-1h-1v-1h-1v-1h1v-1h1zM630 349h1v1h1v1h1v1h-1v1h-1v1h-1v-1h-1v-1h-1v-1h1v-1h1zM631 349h1v1h1v1h1v1h-1v1h-1v1h-1v-1h-1v-1h-1v-1h1v-1h1zM632 349h1v1h1v1h1v1h-1v1h-1v1h-1v-1h-1v-1h-1v-1h1v-1h1zM633 349h1v1h1v1h1v1h-1v1h-1v1h-1v-1h-1v-1h-1v-1h1v-1h1zM634 349h1v1h1v1h1v1h-1v1h-1v1h-1v-1h-1v-1h-1v-1h1v-1h1zM636 332h1v1h1v1h1v1h-1v1h-1v1h-1v-1h-1v-1h-1v-1h1v-1h1zM638 349h1v1h1v1h1v1h-1v1h-1v1h-1v-1h-1v-1h-1v-1h1v-1h1zM640 351h1v1h1v1h1v1h-1v1h-1v1h-1v-1h-1v-1h-1v-1h1v-1h1zM641 352h1v1h1v1h1v1h-1v1h-1v1h-1v-1h-1v-1h-1v-1h1v-1h1zM642 334h1v1h1v1h1v1h-1v1h-1v1h-1v-1h-1v-1h-1v-1h1v-1h1zM643 334h1v1h1v1h1v1h-1v1h-1v1h-1v-1h-1v-1h-1v-1h1v-1h1zM644 335h1v1h1v1h1v1h-1v1h-1v1h-1v-1h-1v-1h-1v-1h1v-1h1zM645 335h1v1h1v1h1v1h-1v1h-1v1h-1v-1h-1v-1h-1v-1h1v-1h1zM646 335h1v1h1v1h1v1h-1v1h-1v1h-1v-1h-1v-1h-1v-1h1v-1h1zM647 336h1v1h1v1h1v1h-1v1h-1v1h-1v-1h-1v-1h-1v-1h1v-1h1zM648 336h1v1h1v1h1v1h-1v1h-1v1h-1v-1h-1v-1h-1v-1h1v-1h1zM649 346h1v1h1v1h1v1h-1v1h-1v1h-1v-1h-1v-1h-1v-1h1v-1h1zM650 380h1v1h1v1h1v1h-1v1h-1v1h-1v-1h-1v-1h-1v-1h1v-1h1zM651 380h1v1h1v1h1v1h-1v1h-1v1h-1v-1h-1v-1h-1v-1h1v-1h1zM652 380h1v1h1v1h1v1h-1v1h-1v1h-1v-1h-1v-1h-1v-1h1v-1h1zM653 380h1v1h1v1h1v1h-1v1h-1v1h-1v-1h-1v-1h-1v-1h1v-1h1zM654 380h1v1h1v1h1v1h-1v1h-1v1h-1v-1h-1v-1h-1v-1h1v-1h1zM655 380h1v1h1v1h1v1h-1v1h-1v1h-1v-1h-1v-1h-1v-1h1v-1h1zM656 380h1v1h1v1h1v1h-1v1h-1v1h-1v-1h-1v-1h-1v-1h1v-1h1zM658 350h1v1h1v1h1v1h-1v1h-1v1h-1v-1h-1v-1h-1v-1h1v-1h1zM659 350h1v1h1v1h1v1h-1v1h-1v1h-1v-1h-1v-1h-1v-1h1v-1h1zM660 350h1v1h1v1h1v1h-1v1h-1v1h-1v-1h-1v-1h-1v-1h1v-1h1zM661 350h1v1h1v1h1v1h-1v1h-1v1h-1v-1h-1v-1h-1v-1h1v-1h1zM662 350h1v1h1v1h1v1h-1v1h-1v1h-1v-1h-1v-1h-1v-1h1v-1h1zM663 350h1v1h1v1h1v1h-1v1h-1v1h-1v-1h-1v-1h-1v-1h1v-1h1zM664 350h1v1h1v1h1v1h-1v1h-1v1h-1v-1h-1v-1h-1v-1h1v-1h1zM665 339h1v1h1v1h1v1h-1v1h-1v1h-1v-1h-1v-1h-1v-1h1v-1h1zM666 378h1v1h1v1h1v1h-1v1h-1v1h-1v-1h-1v-1h-1v-1h1v-1h1zM667 378h1v1h1v1h1v1h-1v1h-1v1h-1v-1h-1v-1h-1v-1h1v-1h1zM668 378h1v1h1v1h1v1h-1v1h-1v1h-1v-1h-1v-1h-1v-1h1v-1h1zM669 378h1v1h1v1h1v1h-1v1h-1v1h-1v-1h-1v-1h-1v-1h1v-1h1zM670 378h1v1h1v1h1v1h-1v1h-1v1h-1v-1h-1v-1h-1v-1h1v-1h1zM671 378h1v1h1v1h1v1h-1v1h-1v1h-1v-1h-1v-1h-1v-1h1v-1h1zM672 378h1v1h1v1h1v1h-1v1h-1v1h-1v-1h-1v-1h-1v-1h1v-1h1zM673 350h1v1h1v1h1v1h-1v1h-1v1h-1v-1h-1v-1h-1v-1h1v-1h1zM674 350h1v1h1v1h1v1h-1v1h-1v1h-1v-1h-1v-1h-1v-1h1v-1h1zM675 350h1v1h1v1h1v1h-1v1h-1v1h-1v-1h-1v-1h-1v-1h1v-1h1zM676 350h1v1h1v1h1v1h-1v1h-1v1h-1v-1h-1v-1h-1v-1h1v-1h1zM677 350h1v1h1v1h1v1h-1v1h-1v1h-1v-1h-1v-1h-1v-1h1v-1h1zM678 350h1v1h1v1h1v1h-1v1h-1v1h-1v-1h-1v-1h-1v-1h1v-1h1zM678 328h1v1h1v1h1v1h-1v1h-1v1h-1v-1h-1v-1h-1v-1h1v-1h1zM680 328h1v1h1v1h1v1h-1v1h-1v1h-1v-1h-1v-1h-1v-1h1v-1h1zM681 328h1v1h1v1h1v1h-1v1h-1v1h-1v-1h-1v-1h-1v-1h1v-1h1zM682 328h1v1h1v1h1v1h-1v1h-1v1h-1v-1h-1v-1h-1v-1h1v-1h1zM683 328h1v1h1v1h1v1h-1v1h-1v1h-1v-1h-1v-1h-1v-1h1v-1h1zM684 339h1v1h1v1h1v1h-1v1h-1v1h-1v-1h-1v-1h-1v-1h1v-1h1zM686 338h1v1h1v1h1v1h-1v1h-1v1h-1v-1h-1v-1h-1v-1h1v-1h1zM686 321h1v1h1v1h1v1h-1v1h-1v1h-1v-1h-1v-1h-1v-1h1v-1h1zM687 321h1v1h1v1h1v1h-1v1h-1v1h-1v-1h-1v-1h-1v-1h1v-1h1zM688 321h1v1h1v1h1v1h-1v1h-1v1h-1v-1h-1v-1h-1v-1h1v-1h1zM689 321h1v1h1v1h1v1h-1v1h-1v1h-1v-1h-1v-1h-1v-1h1v-1h1zM691 322h1v1h1v1h1v1h-1v1h-1v1h-1v-1h-1v-1h-1v-1h1v-1h1zM692 324h1v1h1v1h1v1h-1v1h-1v1h-1v-1h-1v-1h-1v-1h1v-1h1zM693 375h1v1h1v1h1v1h-1v1h-1v1h-1v-1h-1v-1h-1v-1h1v-1h1zM694 375h1v1h1v1h1v1h-1v1h-1v1h-1v-1h-1v-1h-1v-1h1v-1h1zM695 375h1v1h1v1h1v1h-1v1h-1v1h-1v-1h-1v-1h-1v-1h1v-1h1zM696 375h1v1h1v1h1v1h-1v1h-1v1h-1v-1h-1v-1h-1v-1h1v-1h1zM697 375h1v1h1v1h1v1h-1v1h-1v1h-1v-1h-1v-1h-1v-1h1v-1h1zM698 375h1v1h1v1h1v1h-1v1h-1v1h-1v-1h-1v-1h-1v-1h1v-1h1zM699 346h1v1h1v1h1v1h-1v1h-1v1h-1v-1h-1v-1h-1v-1h1v-1h1zM700 346h1v1h1v1h1v1h-1v1h-1v1h-1v-1h-1v-1h-1v-1h1v-1h1zM701 346h1v1h1v1h1v1h-1v1h-1v1h-1v-1h-1v-1h-1v-1h1v-1h1zM702 345h1v1h1v1h1v1h-1v1h-1v1h-1v-1h-1v-1h-1v-1h1v-1h1zM703 345h1v1h1v1h1v1h-1v1h-1v1h-1v-1h-1v-1h-1v-1h1v-1h1zM704 345h1v1h1v1h1v1h-1v1h-1v1h-1v-1h-1v-1h-1v-1h1v-1h1zM705 344h1v1h1v1h1v1h-1v1h-1v1h-1v-1h-1v-1h-1v-1h1v-1h1zM706 344h1v1h1v1h1v1h-1v1h-1v1h-1v-1h-1v-1h-1v-1h1v-1h1zM708 342h1v1h1v1h1v1h-1v1h-1v1h-1v-1h-1v-1h-1v-1h1v-1h1zM710 320h1v1h1v1h1v1h-1v1h-1v1h-1v-1h-1v-1h-1v-1h1v-1h1zM712 321h1v1h1v1h1v1h-1v1h-1v1h-1v-1h-1v-1h-1v-1h1v-1h1zM713 330h1v1h1v1h1v1h-1v1h-1v1h-1v-1h-1v-1h-1v-1h1v-1h1zM715 395h1v1h1v1h1v1h-1v1h-1v1h-1v-1h-1v-1h-1v-1h1v-1h1zM716 395h1v1h1v1h1v1h-1v1h-1v1h-1v-1h-1v-1h-1v-1h1v-1h1zM717 396h1v1h1v1h1v1h-1v1h-1v1h-1v-1h-1v-1h-1v-1h1v-1h1zM718 396h1v1h1v1h1v1h-1v1h-1v1h-1v-1h-1v-1h-1v-1h1v-1h1zM720 395h1v1h1v1h1v1h-1v1h-1v1h-1v-1h-1v-1h-1v-1h1v-1h1zM721 376h1v1h1v1h1v1h-1v1h-1v1h-1v-1h-1v-1h-1v-1h1v-1h1zM722 376h1v1h1v1h1v1h-1v1h-1v1h-1v-1h-1v-1h-1v-1h1v-1h1zM723 376h1v1h1v1h1v1h-1v1h-1v1h-1v-1h-1v-1h-1v-1h1v-1h1zM724 376h1v1h1v1h1v1h-1v1h-1v1h-1v-1h-1v-1h-1v-1h1v-1h1zM725 376h1v1h1v1h1v1h-1v1h-1v1h-1v-1h-1v-1h-1v-1h1v-1h1zM726 376h1v1h1v1h1v1h-1v1h-1v1h-1v-1h-1v-1h-1v-1h1v-1h1zM727 376h1v1h1v1h1v1h-1v1h-1v1h-1v-1h-1v-1h-1v-1h1v-1h1zM728 376h1v1h1v1h1v1h-1v1h-1v1h-1v-1h-1v-1h-1v-1h1v-1h1zM729 388h1v1h1v1h1v1h-1v1h-1v1h-1v-1h-1v-1h-1v-1h1v-1h1zM731 390h1v1h1v1h1v1h-1v1h-1v1h-1v-1h-1v-1h-1v-1h1v-1h1zM732 390h1v1h1v1h1v1h-1v1h-1v1h-1v-1h-1v-1h-1v-1h1v-1h1zM733 389h1v1h1v1h1v1h-1v1h-1v1h-1v-1h-1v-1h-1v-1h1v-1h1zM734 389h1v1h1v1h1v1h-1v1h-1v1h-1v-1h-1v-1h-1v-1h1v-1h1zM736 387h1v1h1v1h1v1h-1v1h-1v1h-1v-1h-1v-1h-1v-1h1v-1h1zM736 359h1v1h1v1h1v1h-1v1h-1v1h-1v-1h-1v-1h-1v-1h1v-1h1zM738 359h1v1h1v1h1v1h-1v1h-1v1h-1v-1h-1v-1h-1v-1h1v-1h1zM739 359h1v1h1v1h1v1h-1v1h-1v1h-1v-1h-1v-1h-1v-1h1v-1h1zM741 360h1v1h1v1h1v1h-1v1h-1v1h-1v-1h-1v-1h-1v-1h1v-1h1zM742 367h1v1h1v1h1v1h-1v1h-1v1h-1v-1h-1v-1h-1v-1h1v-1h1zM743 339h1v1h1v1h1v1h-1v1h-1v1h-1v-1h-1v-1h-1v-1h1v-1h1zM744 339h1v1h1v1h1v1h-1v1h-1v1h-1v-1h-1v-1h-1v-1h1v-1h1zM745 339h1v1h1v1h1v1h-1v1h-1v1h-1v-1h-1v-1h-1v-1h1v-1h1zM746 339h1v1h1v1h1v1h-1v1h-1v1h-1v-1h-1v-1h-1v-1h1v-1h1zM747 339h1v1h1v1h1v1h-1v1h-1v1h-1v-1h-1v-1h-1v-1h1v-1h1zM748 339h1v1h1v1h1v1h-1v1h-1v1h-1v-1h-1v-1h-1v-1h1v-1h1zM749 339h1v1h1v1h1v1h-1v1h-1v1h-1v-1h-1v-1h-1v-1h1v-1h1zM750 410h1v1h1v1h1v1h-1v1h-1v1h-1v-1h-1v-1h-1v-1h1v-1h1zM751 410h1v1h1v1h1v1h-1v1h-1v1h-1v-1h-1v-1h-1v-1h1v-1h1zM752 410h1v1h1v1h1v1h-1v1h-1v1h-1v-1h-1v-1h-1v-1h1v-1h1zM753 410h1v1h1v1h1v1h-1v1h-1v1h-1v-1h-1v-1h-1v-1h1v-1h1zM754 410h1v1h1v1h1v1h-1v1h-1v1h-1v-1h-1v-1h-1v-1h1v-1h1zM755 410h1v1h1v1h1v1h-1v1h-1v1h-1v-1h-1v-1h-1v-1h1v-1h1zM757 408h1v1h1v1h1v1h-1v1h-1v1h-1v-1h-1v-1h-1v-1h1v-1h1zM758 422h1v1h1v1h1v1h-1v1h-1v1h-1v-1h-1v-1h-1v-1h1v-1h1zM759 422h1v1h1v1h1v1h-1v1h-1v1h-1v-1h-1v-1h-1v-1h1v-1h1zM760 422h1v1h1v1h1v1h-1v1h-1v1h-1v-1h-1v-1h-1v-1h1v-1h1zM763 417h1v1h1v1h1v1h-1v1h-1v1h-1v-1h-1v-1h-1v-1h1v-1h1zM764 427h1v1h1v1h1v1h-1v1h-1v1h-1v-1h-1v-1h-1v-1h1v-1h1zM765 427h1v1h1v1h1v1h-1v1h-1v1h-1v-1h-1v-1h-1v-1h1v-1h1zM766 427h1v1h1v1h1v1h-1v1h-1v1h-1v-1h-1v-1h-1v-1h1v-1h1zM767 427h1v1h1v1h1v1h-1v1h-1v1h-1v-1h-1v-1h-1v-1h1v-1h1zM769 426h1v1h1v1h1v1h-1v1h-1v1h-1v-1h-1v-1h-1v-1h1v-1h1zM771 422h1v1h1v1h1v1h-1v1h-1v1h-1v-1h-1v-1h-1v-1h1v-1h1zM772 422h1v1h1v1h1v1h-1v1h-1v1h-1v-1h-1v-1h-1v-1h1v-1h1zM773 422h1v1h1v1h1v1h-1v1h-1v1h-1v-1h-1v-1h-1v-1h1v-1h1zM774 422h1v1h1v1h1v1h-1v1h-1v1h-1v-1h-1v-1h-1v-1h1v-1h1zM776 417h1v1h1v1h1v1h-1v1h-1v1h-1v-1h-1v-1h-1v-1h1v-1h1zM777 417h1v1h1v1h1v1h-1v1h-1v1h-1v-1h-1v-1h-1v-1h1v-1h1zM778 416h1v1h1v1h1v1h-1v1h-1v1h-1v-1h-1v-1h-1v-1h1v-1h1zM779 416h1v1h1v1h1v1h-1v1h-1v1h-1v-1h-1v-1h-1v-1h1v-1h1zM780 416h1v1h1v1h1v1h-1v1h-1v1h-1v-1h-1v-1h-1v-1h1v-1h1zM781 416h1v1h1v1h1v1h-1v1h-1v1h-1v-1h-1v-1h-1v-1h1v-1h1zM782 416h1v1h1v1h1v1h-1v1h-1v1h-1v-1h-1v-1h-1v-1h1v-1h1zM784 413h1v1h1v1h1v1h-1v1h-1v1h-1v-1h-1v-1h-1v-1h1v-1h1zM785 413h1v1h1v1h1v1h-1v1h-1v1h-1v-1h-1v-1h-1v-1h1v-1h1zM786 412h1v1h1v1h1v1h-1v1h-1v1h-1v-1h-1v-1h-1v-1h1v-1h1zM787 412h1v1h1v1h1v1h-1v1h-1v1h-1v-1h-1v-1h-1v-1h1v-1h1zM788 412h1v1h1v1h1v1h-1v1h-1v1h-1v-1h-1v-1h-1v-1h1v-1h1zM789 412h1v1h1v1h1v1h-1v1h-1v1h-1v-1h-1v-1h-1v-1h1v-1h1zM790 412h1v1h1v1h1v1h-1v1h-1v1h-1v-1h-1v-1h-1v-1h1v-1h1zM791 412h1v1h1v1h1v1h-1v1h-1v1h-1v-1h-1v-1h-1v-1h1v-1h1zM792 412h1v1h1v1h1v1h-1v1h-1v1h-1v-1h-1v-1h-1v-1h1v-1h1zM793 412h1v1h1v1h1v1h-1v1h-1v1h-1v-1h-1v-1h-1v-1h1v-1h1zM794 412h1v1h1v1h1v1h-1v1h-1v1h-1v-1h-1v-1h-1v-1h1v-1h1zM795 412h1v1h1v1h1v1h-1v1h-1v1h-1v-1h-1v-1h-1v-1h1v-1h1zM796 412h1v1h1v1h1v1h-1v1h-1v1h-1v-1h-1v-1h-1v-1h1v-1h1zM797 412h1v1h1v1h1v1h-1v1h-1v1h-1v-1h-1v-1h-1v-1h1v-1h1zM798 412h1v1h1v1h1v1h-1v1h-1v1h-1v-1h-1v-1h-1v-1h1v-1h1zM799 412h1v1h1v1h1v1h-1v1h-1v1h-1v-1h-1v-1h-1v-1h1v-1h1zM801 398h1v1h1v1h1v1h-1v1h-1v1h-1v-1h-1v-1h-1v-1h1v-1h1zM802 398h1v1h1v1h1v1h-1v1h-1v1h-1v-1h-1v-1h-1v-1h1v-1h1zM803 398h1v1h1v1h1v1h-1v1h-1v1h-1v-1h-1v-1h-1v-1h1v-1h1zM804 398h1v1h1v1h1v1h-1v1h-1v1h-1v-1h-1v-1h-1v-1h1v-1h1zM806 400h1v1h1v1h1v1h-1v1h-1v1h-1v-1h-1v-1h-1v-1h1v-1h1zM809 396h1v1h1v1h1v1h-1v1h-1v1h-1v-1h-1v-1h-1v-1h1v-1h1zM810 396h1v1h1v1h1v1h-1v1h-1v1h-1v-1h-1v-1h-1v-1h1v-1h1zM811 397h1v1h1v1h1v1h-1v1h-1v1h-1v-1h-1v-1h-1v-1h1v-1h1zM812 397h1v1h1v1h1v1h-1v1h-1v1h-1v-1h-1v-1h-1v-1h1v-1h1zM815 399h1v1h1v1h1v1h-1v1h-1v1h-1v-1h-1v-1h-1v-1h1v-1h1zM816 399h1v1h1v1h1v1h-1v1h-1v1h-1v-1h-1v-1h-1v-1h1v-1h1zM817 400h1v1h1v1h1v1h-1v1h-1v1h-1v-1h-1v-1h-1v-1h1v-1h1zM818 400h1v1h1v1h1v1h-1v1h-1v1h-1v-1h-1v-1h-1v-1h1v-1h1zM820 394h1v1h1v1h1v1h-1v1h-1v1h-1v-1h-1v-1h-1v-1h1v-1h1zM821 394h1v1h1v1h1v1h-1v1h-1v1h-1v-1h-1v-1h-1v-1h1v-1h1zM822 394h1v1h1v1h1v1h-1v1h-1v1h-1v-1h-1v-1h-1v-1h1v-1h1zM823 394h1v1h1v1h1v1h-1v1h-1v1h-1v-1h-1v-1h-1v-1h1v-1h1zM826 397h1v1h1v1h1v1h-1v1h-1v1h-1v-1h-1v-1h-1v-1h1v-1h1zM828 380h1v1h1v1h1v1h-1v1h-1v1h-1v-1h-1v-1h-1v-1h1v-1h1zM829 380h1v1h1v1h1v1h-1v1h-1v1h-1v-1h-1v-1h-1v-1h1v-1h1zM830 380h1v1h1v1h1v1h-1v1h-1v1h-1v-1h-1v-1h-1v-1h1v-1h1zM831 380h1v1h1v1h1v1h-1v1h-1v1h-1v-1h-1v-1h-1v-1h1v-1h1zM832 380h1v1h1v1h1v1h-1v1h-1v1h-1v-1h-1v-1h-1v-1h1v-1h1zM834 381h1v1h1v1h1v1h-1v1h-1v1h-1v-1h-1v-1h-1v-1h1v-1h1zM837 387h1v1h1v1h1v1h-1v1h-1v1h-1v-1h-1v-1h-1v-1h1v-1h1zM838 387h1v1h1v1h1v1h-1v1h-1v1h-1v-1h-1v-1h-1v-1h1v-1h1zM839 387h1v1h1v1h1v1h-1v1h-1v1h-1v-1h-1v-1h-1v-1h1v-1h1zM840 387h1v1h1v1h1v1h-1v1h-1v1h-1v-1h-1v-1h-1v-1h1v-1h1zM841 387h1v1h1v1h1v1h-1v1h-1v1h-1v-1h-1v-1h-1v-1h1v-1h1zM843 388h1v1h1v1h1v1h-1v1h-1v1h-1v-1h-1v-1h-1v-1h1v-1h1zM844 391h1v1h1v1h1v1h-1v1h-1v1h-1v-1h-1v-1h-1v-1h1v-1h1zM845 373h1v1h1v1h1v1h-1v1h-1v1h-1v-1h-1v-1h-1v-1h1v-1h1zM846 373h1v1h1v1h1v1h-1v1h-1v1h-1v-1h-1v-1h-1v-1h1v-1h1zM847 373h1v1h1v1h1v1h-1v1h-1v1h-1v-1h-1v-1h-1v-1h1v-1h1zM848 373h1v1h1v1h1v1h-1v1h-1v1h-1v-1h-1v-1h-1v-1h1v-1h1zM849 373h1v1h1v1h1v1h-1v1h-1v1h-1v-1h-1v-1h-1v-1h1v-1h1zM850 374h1v1h1v1h1v1h-1v1h-1v1h-1v-1h-1v-1h-1v-1h1v-1h1zM851 374h1v1h1v1h1v1h-1v1h-1v1h-1v-1h-1v-1h-1v-1h1v-1h1zM853 381h1v1h1v1h1v1h-1v1h-1v1h-1v-1h-1v-1h-1v-1h1v-1h1zM854 409h1v1h1v1h1v1h-1v1h-1v1h-1v-1h-1v-1h-1v-1h1v-1h1zM855 409h1v1h1v1h1v1h-1v1h-1v1h-1v-1h-1v-1h-1v-1h1v-1h1zM856 409h1v1h1v1h1v1h-1v1h-1v1h-1v-1h-1v-1h-1v-1h1v-1h1zM857 409h1v1h1v1h1v1h-1v1h-1v1h-1v-1h-1v-1h-1v-1h1v-1h1zM858 409h1v1h1v1h1v1h-1v1h-1v1h-1v-1h-1v-1h-1v-1h1v-1h1zM859 408h1v1h1v1h1v1h-1v1h-1v1h-1v-1h-1v-1h-1v-1h1v-1h1zM860 408h1v1h1v1h1v1h-1v1h-1v1h-1v-1h-1v-1h-1v-1h1v-1h1zM862 394h1v1h1v1h1v1h-1v1h-1v1h-1v-1h-1v-1h-1v-1h1v-1h1zM863 394h1v1h1v1h1v1h-1v1h-1v1h-1v-1h-1v-1h-1v-1h1v-1h1zM864 394h1v1h1v1h1v1h-1v1h-1v1h-1v-1h-1v-1h-1v-1h1v-1h1zM865 394h1v1h1v1h1v1h-1v1h-1v1h-1v-1h-1v-1h-1v-1h1v-1h1zM867 374h1v1h1v1h1v1h-1v1h-1v1h-1v-1h-1v-1h-1v-1h1v-1h1zM868 374h1v1h1v1h1v1h-1v1h-1v1h-1v-1h-1v-1h-1v-1h1v-1h1zM869 374h1v1h1v1h1v1h-1v1h-1v1h-1v-1h-1v-1h-1v-1h1v-1h1zM870 374h1v1h1v1h1v1h-1v1h-1v1h-1v-1h-1v-1h-1v-1h1v-1h1zM872 381h1v1h1v1h1v1h-1v1h-1v1h-1v-1h-1v-1h-1v-1h1v-1h1zM873 358h1v1h1v1h1v1h-1v1h-1v1h-1v-1h-1v-1h-1v-1h1v-1h1zM874 358h1v1h1v1h1v1h-1v1h-1v1h-1v-1h-1v-1h-1v-1h1v-1h1zM875 358h1v1h1v1h1v1h-1v1h-1v1h-1v-1h-1v-1h-1v-1h1v-1h1zM876 358h1v1h1v1h1v1h-1v1h-1v1h-1v-1h-1v-1h-1v-1h1v-1h1zM877 358h1v1h1v1h1v1h-1v1h-1v1h-1v-1h-1v-1h-1v-1h1v-1h1zM878 358h1v1h1v1h1v1h-1v1h-1v1h-1v-1h-1v-1h-1v-1h1v-1h1zM879 358h1v1h1v1h1v1h-1v1h-1v1h-1v-1h-1v-1h-1v-1h1v-1h1zM881 369h1v1h1v1h1v1h-1v1h-1v1h-1v-1h-1v-1h-1v-1h1v-1h1zM884 377h1v1h1v1h1v1h-1v1h-1v1h-1v-1h-1v-1h-1v-1h1v-1h1zM885 377h1v1h1v1h1v1h-1v1h-1v1h-1v-1h-1v-1h-1v-1h1v-1h1zM886 377h1v1h1v1h1v1h-1v1h-1v1h-1v-1h-1v-1h-1v-1h1v-1h1zM888 383h1v1h1v1h1v1h-1v1h-1v1h-1v-1h-1v-1h-1v-1h1v-1h1zM890 384h1v1h1v1h1v1h-1v1h-1v1h-1v-1h-1v-1h-1v-1h1v-1h1zM892 385h1v1h1v1h1v1h-1v1h-1v1h-1v-1h-1v-1h-1v-1h1v-1h1zM893 385h1v1h1v1h1v1h-1v1h-1v1h-1v-1h-1v-1h-1v-1h1v-1h1zM894 385h1v1h1v1h1v1h-1v1h-1v1h-1v-1h-1v-1h-1v-1h1v-1h1zM895 385h1v1h1v1h1v1h-1v1h-1v1h-1v-1h-1v-1h-1v-1h1v-1h1zM896 385h1v1h1v1h1v1h-1v1h-1v1h-1v-1h-1v-1h-1v-1h1v-1h1zM899 381h1v1h1v1h1v1h-1v1h-1v1h-1v-1h-1v-1h-1v-1h1v-1h1zM900 381h1v1h1v1h1v1h-1v1h-1v1h-1v-1h-1v-1h-1v-1h1v-1h1zM901 381h1v1h1v1h1v1h-1v1h-1v1h-1v-1h-1v-1h-1v-1h1v-1h1zM902 381h1v1h1v1h1v1h-1v1h-1v1h-1v-1h-1v-1h-1v-1h1v-1h1zM903 381h1v1h1v1h1v1h-1v1h-1v1h-1v-1h-1v-1h-1v-1h1v-1h1zM904 381h1v1h1v1h1v1h-1v1h-1v1h-1v-1h-1v-1h-1v-1h1v-1h1zM905 381h1v1h1v1h1v1h-1v1h-1v1h-1v-1h-1v-1h-1v-1h1v-1h1zM906 381h1v1h1v1h1v1h-1v1h-1v1h-1v-1h-1v-1h-1v-1h1v-1h1zM907 384h1v1h1v1h1v1h-1v1h-1v1h-1v-1h-1v-1h-1v-1h1v-1h1zM908 360h1v1h1v1h1v1h-1v1h-1v1h-1v-1h-1v-1h-1v-1h1v-1h1zM909 360h1v1h1v1h1v1h-1v1h-1v1h-1v-1h-1v-1h-1v-1h1v-1h1zM910 360h1v1h1v1h1v1h-1v1h-1v1h-1v-1h-1v-1h-1v-1h1v-1h1zM911 360h1v1h1v1h1v1h-1v1h-1v1h-1v-1h-1v-1h-1v-1h1v-1h1zM912 360h1v1h1v1h1v1h-1v1h-1v1h-1v-1h-1v-1h-1v-1h1v-1h1zM914 361h1v1h1v1h1v1h-1v1h-1v1h-1v-1h-1v-1h-1v-1h1v-1h1zM915 367h1v1h1v1h1v1h-1v1h-1v1h-1v-1h-1v-1h-1v-1h1v-1h1zM916 367h1v1h1v1h1v1h-1v1h-1v1h-1v-1h-1v-1h-1v-1h1v-1h1zM917 368h1v1h1v1h1v1h-1v1h-1v1h-1v-1h-1v-1h-1v-1h1v-1h1zM918 368h1v1h1v1h1v1h-1v1h-1v1h-1v-1h-1v-1h-1v-1h1v-1h1zM919 373h1v1h1v1h1v1h-1v1h-1v1h-1v-1h-1v-1h-1v-1h1v-1h1zM921 374h1v1h1v1h1v1h-1v1h-1v1h-1v-1h-1v-1h-1v-1h1v-1h1zM923 377h1v1h1v1h1v1h-1v1h-1v1h-1v-1h-1v-1h-1v-1h1v-1h1zM924 352h1v1h1v1h1v1h-1v1h-1v1h-1v-1h-1v-1h-1v-1h1v-1h1zM925 352h1v1h1v1h1v1h-1v1h-1v1h-1v-1h-1v-1h-1v-1h1v-1h1zM926 352h1v1h1v1h1v1h-1v1h-1v1h-1v-1h-1v-1h-1v-1h1v-1h1zM927 352h1v1h1v1h1v1h-1v1h-1v1h-1v-1h-1v-1h-1v-1h1v-1h1zM928 352h1v1h1v1h1v1h-1v1h-1v1h-1v-1h-1v-1h-1v-1h1v-1h1zM929 352h1v1h1v1h1v1h-1v1h-1v1h-1v-1h-1v-1h-1v-1h1v-1h1zM930 352h1v1h1v1h1v1h-1v1h-1v1h-1v-1h-1v-1h-1v-1h1v-1h1zM931 360h1v1h1v1h1v1h-1v1h-1v1h-1v-1h-1v-1h-1v-1h1v-1h1zM933 325h1v1h1v1h1v1h-1v1h-1v1h-1v-1h-1v-1h-1v-1h1v-1h1zM934 325h1v1h1v1h1v1h-1v1h-1v1h-1v-1h-1v-1h-1v-1h1v-1h1zM935 325h1v1h1v1h1v1h-1v1h-1v1h-1v-1h-1v-1h-1v-1h1v-1h1zM936 325h1v1h1v1h1v1h-1v1h-1v1h-1v-1h-1v-1h-1v-1h1v-1h1zM937 325h1v1h1v1h1v1h-1v1h-1v1h-1v-1h-1v-1h-1v-1h1v-1h1zM938 325h1v1h1v1h1v1h-1v1h-1v1h-1v-1h-1v-1h-1v-1h1v-1h1zM939 325h1v1h1v1h1v1h-1v1h-1v1h-1v-1h-1v-1h-1v-1h1v-1h1zM940 325h1v1h1v1h1v1h-1v1h-1v1h-1v-1h-1v-1h-1v-1h1v-1h1zM941 347h1v1h1v1h1v1h-1v1h-1v1h-1v-1h-1v-1h-1v-1h1v-1h1zM942 369h1v1h1v1h1v1h-1v1h-1v1h-1v-1h-1v-1h-1v-1h1v-1h1zM943 369h1v1h1v1h1v1h-1v1h-1v1h-1v-1h-1v-1h-1v-1h1v-1h1zM944 369h1v1h1v1h1v1h-1v1h-1v1h-1v-1h-1v-1h-1v-1h1v-1h1zM945 369h1v1h1v1h1v1h-1v1h-1v1h-1v-1h-1v-1h-1v-1h1v-1h1zM948 372h1v1h1v1h1v1h-1v1h-1v1h-1v-1h-1v-1h-1v-1h1v-1h1zM951 375h1v1h1v1h1v1h-1v1h-1v1h-1v-1h-1v-1h-1v-1h1v-1h1zM952 375h1v1h1v1h1v1h-1v1h-1v1h-1v-1h-1v-1h-1v-1h1v-1h1zM953 376h1v1h1v1h1v1h-1v1h-1v1h-1v-1h-1v-1h-1v-1h1v-1h1zM954 376h1v1h1v1h1v1h-1v1h-1v1h-1v-1h-1v-1h-1v-1h1v-1h1zM955 376h1v1h1v1h1v1h-1v1h-1v1h-1v-1h-1v-1h-1v-1h1v-1h1zM956 377h1v1h1v1h1v1h-1v1h-1v1h-1v-1h-1v-1h-1v-1h1v-1h1zM957 377h1v1h1v1h1v1h-1v1h-1v1h-1v-1h-1v-1h-1v-1h1v-1h1zM958 377h1v1h1v1h1v1h-1v1h-1v1h-1v-1h-1v-1h-1v-1h1v-1h1zM959 377h1v1h1v1h1v1h-1v1h-1v1h-1v-1h-1v-1h-1v-1h1v-1h1zM960 345h1v1h1v1h1v1h-1v1h-1v1h-1v-1h-1v-1h-1v-1h1v-1h1zM961 345h1v1h1v1h1v1h-1v1h-1v1h-1v-1h-1v-1h-1v-1h1v-1h1zM962 345h1v1h1v1h1v1h-1v1h-1v1h-1v-1h-1v-1h-1v-1h1v-1h1zM963 345h1v1h1v1h1v1h-1v1h-1v1h-1v-1h-1v-1h-1v-1h1v-1h1zM965 346h1v1h1v1h1v1h-1v1h-1v1h-1v-1h-1v-1h-1v-1h1v-1h1zM966 352h1v1h1v1h1v1h-1v1h-1v1h-1v-1h-1v-1h-1v-1h1v-1h1zM968 364h1v1h1v1h1v1h-1v1h-1v1h-1v-1h-1v-1h-1v-1h1v-1h1zM969 364h1v1h1v1h1v1h-1v1h-1v1h-1v-1h-1v-1h-1v-1h1v-1h1zM970 364h1v1h1v1h1v1h-1v1h-1v1h-1v-1h-1v-1h-1v-1h1v-1h1zM971 365h1v1h1v1h1v1h-1v1h-1v1h-1v-1h-1v-1h-1v-1h1v-1h1zM972 365h1v1h1v1h1v1h-1v1h-1v1h-1v-1h-1v-1h-1v-1h1v-1h1zM974 368h1v1h1v1h1v1h-1v1h-1v1h-1v-1h-1v-1h-1v-1h1v-1h1zM976 372h1v1h1v1h1v1h-1v1h-1v1h-1v-1h-1v-1h-1v-1h1v-1h1zM977 372h1v1h1v1h1v1h-1v1h-1v1h-1v-1h-1v-1h-1v-1h1v-1h1zM978 373h1v1h1v1h1v1h-1v1h-1v1h-1v-1h-1v-1h-1v-1h1v-1h1zM979 373h1v1h1v1h1v1h-1v1h-1v1h-1v-1h-1v-1h-1v-1h1v-1h1zM980 373h1v1h1v1h1v1h-1v1h-1v1h-1v-1h-1v-1h-1v-1h1v-1h1zM981 373h1v1h1v1h1v1h-1v1h-1v1h-1v-1h-1v-1h-1v-1h1v-1h1zM982 373h1v1h1v1h1v1h-1v1h-1v1h-1v-1h-1v-1h-1v-1h1v-1h1zM983 373h1v1h1v1h1v1h-1v1h-1v1h-1v-1h-1v-1h-1v-1h1v-1h1zM984 373h1v1h1v1h1v1h-1v1h-1v1h-1v-1h-1v-1h-1v-1h1v-1h1zM985 348h1v1h1v1h1v1h-1v1h-1v1h-1v-1h-1v-1h-1v-1h1v-1h1zM986 348h1v1h1v1h1v1h-1v1h-1v1h-1v-1h-1v-1h-1v-1h1v-1h1zM987 347h1v1h1v1h1v1h-1v1h-1v1h-1v-1h-1v-1h-1v-1h1v-1h1zM988 347h1v1h1v1h1v1h-1v1h-1v1h-1v-1h-1v-1h-1v-1h1v-1h1zM989 347h1v1h1v1h1v1h-1v1h-1v1h-1v-1h-1v-1h-1v-1h1v-1h1zM990 347h1v1h1v1h1v1h-1v1h-1v1h-1v-1h-1v-1h-1v-1h1v-1h1zM991 347h1v1h1v1h1v1h-1v1h-1v1h-1v-1h-1v-1h-1v-1h1v-1h1zM992 347h1v1h1v1h1v1h-1v1h-1v1h-1v-1h-1v-1h-1v-1h1v-1h1zM994 353h1v1h1v1h1v1h-1v1h-1v1h-1v-1h-1v-1h-1v-1h1v-1h1zM995 367h1v1h1v1h1v1h-1v1h-1v1h-1v-1h-1v-1h-1v-1h1v-1h1zM998 373h1v1h1v1h1v1h-1v1h-1v1h-1v-1h-1v-1h-1v-1h1v-1h1zM999 373h1v1h1v1h1v1h-1v1h-1v1h-1v-1h-1v-1h-1v-1h1v-1h1zM1000 374h1v1h1v1h1v1h-1v1h-1v1h-1v-1h-1v-1h-1v-1h1v-1h1zM1001 374h1v1h1v1h1v1h-1v1h-1v1h-1v-1h-1v-1h-1v-1h1v-1h1zM1002 374h1v1h1v1h1v1h-1v1h-1v1h-1v-1h-1v-1h-1v-1h1v-1h1zM1003 374h1v1h1v1h1v1h-1v1h-1v1h-1v-1h-1v-1h-1v-1h1v-1h1zM1004 374h1v1h1v1h1v1h-1v1h-1v1h-1v-1h-1v-1h-1v-1h1v-1h1zM1005 391h1v1h1v1h1v1h-1v1h-1v1h-1v-1h-1v-1h-1v-1h1v-1h1zM1006 391h1v1h1v1h1v1h-1v1h-1v1h-1v-1h-1v-1h-1v-1h1v-1h1zM1007 391h1v1h1v1h1v1h-1v1h-1v1h-1v-1h-1v-1h-1v-1h1v-1h1zM1008 391h1v1h1v1h1v1h-1v1h-1v1h-1v-1h-1v-1h-1v-1h1v-1h1zM1009 391h1v1h1v1h1v1h-1v1h-1v1h-1v-1h-1v-1h-1v-1h1v-1h1zM1010 391h1v1h1v1h1v1h-1v1h-1v1h-1v-1h-1v-1h-1v-1h1v-1h1zM1011 391h1v1h1v1h1v1h-1v1h-1v1h-1v-1h-1v-1h-1v-1h1v-1h1zM1012 391h1v1h1v1h1v1h-1v1h-1v1h-1v-1h-1v-1h-1v-1h1v-1h1zM1013 369h1v1h1v1h1v1h-1v1h-1v1h-1v-1h-1v-1h-1v-1h1v-1h1zM1014 369h1v1h1v1h1v1h-1v1h-1v1h-1v-1h-1v-1h-1v-1h1v-1h1zM1015 369h1v1h1v1h1v1h-1v1h-1v1h-1v-1h-1v-1h-1v-1h1v-1h1zM1016 369h1v1h1v1h1v1h-1v1h-1v1h-1v-1h-1v-1h-1v-1h1v-1h1zM1019 371h1v1h1v1h1v1h-1v1h-1v1h-1v-1h-1v-1h-1v-1h1v-1h1zM1021 370h1v1h1v1h1v1h-1v1h-1v1h-1v-1h-1v-1h-1v-1h1v-1h1zM1022 370h1v1h1v1h1v1h-1v1h-1v1h-1v-1h-1v-1h-1v-1h1v-1h1zM1023 370h1v1h1v1h1v1h-1v1h-1v1h-1v-1h-1v-1h-1v-1h1v-1h1zM1024 370h1v1h1v1h1v1h-1v1h-1v1h-1v-1h-1v-1h-1v-1h1v-1h1zM1025 370h1v1h1v1h1v1h-1v1h-1v1h-1v-1h-1v-1h-1v-1h1v-1h1zM1026 370h1v1h1v1h1v1h-1v1h-1v1h-1v-1h-1v-1h-1v-1h1v-1h1zM1027 371h1v1h1v1h1v1h-1v1h-1v1h-1v-1h-1v-1h-1v-1h1v-1h1zM1028 371h1v1h1v1h1v1h-1v1h-1v1h-1v-1h-1v-1h-1v-1h1v-1h1zM1030 372h1v1h1v1h1v1h-1v1h-1v1h-1v-1h-1v-1h-1v-1h1v-1h1zM1031 344h1v1h1v1h1v1h-1v1h-1v1h-1v-1h-1v-1h-1v-1h1v-1h1zM1032 361h1v1h1v1h1v1h-1v1h-1v1h-1v-1h-1v-1h-1v-1h1v-1h1zM1033 361h1v1h1v1h1v1h-1v1h-1v1h-1v-1h-1v-1h-1v-1h1v-1h1zM1034 361h1v1h1v1h1v1h-1v1h-1v1h-1v-1h-1v-1h-1v-1h1v-1h1zM1035 361h1v1h1v1h1v1h-1v1h-1v1h-1v-1h-1v-1h-1v-1h1v-1h1zM1037 363h1v1h1v1h1v1h-1v1h-1v1h-1v-1h-1v-1h-1v-1h1v-1h1zM1038 395h1v1h1v1h1v1h-1v1h-1v1h-1v-1h-1v-1h-1v-1h1v-1h1zM1039 395h1v1h1v1h1v1h-1v1h-1v1h-1v-1h-1v-1h-1v-1h1v-1h1zM1040 395h1v1h1v1h1v1h-1v1h-1v1h-1v-1h-1v-1h-1v-1h1v-1h1zM1041 395h1v1h1v1h1v1h-1v1h-1v1h-1v-1h-1v-1h-1v-1h1v-1h1zM1042 395h1v1h1v1h1v1h-1v1h-1v1h-1v-1h-1v-1h-1v-1h1v-1h1zM1043 395h1v1h1v1h1v1h-1v1h-1v1h-1v-1h-1v-1h-1v-1h1v-1h1zM1044 394h1v1h1v1h1v1h-1v1h-1v1h-1v-1h-1v-1h-1v-1h1v-1h1zM1045 394h1v1h1v1h1v1h-1v1h-1v1h-1v-1h-1v-1h-1v-1h1v-1h1zM1047 393h1v1h1v1h1v1h-1v1h-1v1h-1v-1h-1v-1h-1v-1h1v-1h1zM1049 387h1v1h1v1h1v1h-1v1h-1v1h-1v-1h-1v-1h-1v-1h1v-1h1zM1050 387h1v1h1v1h1v1h-1v1h-1v1h-1v-1h-1v-1h-1v-1h1v-1h1zM1051 387h1v1h1v1h1v1h-1v1h-1v1h-1v-1h-1v-1h-1v-1h1v-1h1zM1052 387h1v1h1v1h1v1h-1v1h-1v1h-1v-1h-1v-1h-1v-1h1v-1h1zM1055 385h1v1h1v1h1v1h-1v1h-1v1h-1v-1h-1v-1h-1v-1h1v-1h1zM1058 383h1v1h1v1h1v1h-1v1h-1v1h-1v-1h-1v-1h-1v-1h1v-1h1zM1059 383h1v1h1v1h1v1h-1v1h-1v1h-1v-1h-1v-1h-1v-1h1v-1h1zM1060 383h1v1h1v1h1v1h-1v1h-1v1h-1v-1h-1v-1h-1v-1h1v-1h1zM1061 383h1v1h1v1h1v1h-1v1h-1v1h-1v-1h-1v-1h-1v-1h1v-1h1zM1063 385h1v1h1v1h1v1h-1v1h-1v1h-1v-1h-1v-1h-1v-1h1v-1h1zM1064 393h1v1h1v1h1v1h-1v1h-1v1h-1v-1h-1v-1h-1v-1h1v-1h1zM1065 393h1v1h1v1h1v1h-1v1h-1v1h-1v-1h-1v-1h-1v-1h1v-1h1zM1066 393h1v1h1v1h1v1h-1v1h-1v1h-1v-1h-1v-1h-1v-1h1v-1h1zM1067 393h1v1h1v1h1v1h-1v1h-1v1h-1v-1h-1v-1h-1v-1h1v-1h1zM1068 393h1v1h1v1h1v1h-1v1h-1v1h-1v-1h-1v-1h-1v-1h1v-1h1zM1069 393h1v1h1v1h1v1h-1v1h-1v1h-1v-1h-1v-1h-1v-1h1v-1h1zM1070 393h1v1h1v1h1v1h-1v1h-1v1h-1v-1h-1v-1h-1v-1h1v-1h1zM1071 407h1v1h1v1h1v1h-1v1h-1v1h-1v-1h-1v-1h-1v-1h1v-1h1zM1072 407h1v1h1v1h1v1h-1v1h-1v1h-1v-1h-1v-1h-1v-1h1v-1h1zM1073 407h1v1h1v1h1v1h-1v1h-1v1h-1v-1h-1v-1h-1v-1h1v-1h1zM1074 407h1v1h1v1h1v1h-1v1h-1v1h-1v-1h-1v-1h-1v-1h1v-1h1zM1075 407h1v1h1v1h1v1h-1v1h-1v1h-1v-1h-1v-1h-1v-1h1v-1h1zM1076 407h1v1h1v1h1v1h-1v1h-1v1h-1v-1h-1v-1h-1v-1h1v-1h1zM1077 407h1v1h1v1h1v1h-1v1h-1v1h-1v-1h-1v-1h-1v-1h1v-1h1zM1078 407h1v1h1v1h1v1h-1v1h-1v1h-1v-1h-1v-1h-1v-1h1v-1h1zM1079 407h1v1h1v1h1v1h-1v1h-1v1h-1v-1h-1v-1h-1v-1h1v-1h1zM1080 406h1v1h1v1h1v1h-1v1h-1v1h-1v-1h-1v-1h-1v-1h1v-1h1zM1081 406h1v1h1v1h1v1h-1v1h-1v1h-1v-1h-1v-1h-1v-1h1v-1h1zM1082 396h1v1h1v1h1v1h-1v1h-1v1h-1v-1h-1v-1h-1v-1h1v-1h1zM1083 396h1v1h1v1h1v1h-1v1h-1v1h-1v-1h-1v-1h-1v-1h1v-1h1zM1084 395h1v1h1v1h1v1h-1v1h-1v1h-1v-1h-1v-1h-1v-1h1v-1h1zM1085 395h1v1h1v1h1v1h-1v1h-1v1h-1v-1h-1v-1h-1v-1h1v-1h1zM1086 395h1v1h1v1h1v1h-1v1h-1v1h-1v-1h-1v-1h-1v-1h1v-1h1zM1087 395h1v1h1v1h1v1h-1v1h-1v1h-1v-1h-1v-1h-1v-1h1v-1h1zM1088 395h1v1h1v1h1v1h-1v1h-1v1h-1v-1h-1v-1h-1v-1h1v-1h1zM1090 387h1v1h1v1h1v1h-1v1h-1v1h-1v-1h-1v-1h-1v-1h1v-1h1zM1091 387h1v1h1v1h1v1h-1v1h-1v1h-1v-1h-1v-1h-1v-1h1v-1h1zM1092 387h1v1h1v1h1v1h-1v1h-1v1h-1v-1h-1v-1h-1v-1h1v-1h1zM1093 387h1v1h1v1h1v1h-1v1h-1v1h-1v-1h-1v-1h-1v-1h1v-1h1zM1094 387h1v1h1v1h1v1h-1v1h-1v1h-1v-1h-1v-1h-1v-1h1v-1h1zM1095 387h1v1h1v1h1v1h-1v1h-1v1h-1v-1h-1v-1h-1v-1h1v-1h1zM1096 387h1v1h1v1h1v1h-1v1h-1v1h-1v-1h-1v-1h-1v-1h1v-1h1zM1097 387h1v1h1v1h1v1h-1v1h-1v1h-1v-1h-1v-1h-1v-1h1v-1h1zM1099 380h1v1h1v1h1v1h-1v1h-1v1h-1v-1h-1v-1h-1v-1h1v-1h1zM1100 380h1v1h1v1h1v1h-1v1h-1v1h-1v-1h-1v-1h-1v-1h1v-1h1zM1101 379h1v1h1v1h1v1h-1v1h-1v1h-1v-1h-1v-1h-1v-1h1v-1h1zM1102 379h1v1h1v1h1v1h-1v1h-1v1h-1v-1h-1v-1h-1v-1h1v-1h1zM1103 379h1v1h1v1h1v1h-1v1h-1v1h-1v-1h-1v-1h-1v-1h1v-1h1zM1104 380h1v1h1v1h1v1h-1v1h-1v1h-1v-1h-1v-1h-1v-1h1v-1h1zM1105 380h1v1h1v1h1v1h-1v1h-1v1h-1v-1h-1v-1h-1v-1h1v-1h1zM1106 390h1v1h1v1h1v1h-1v1h-1v1h-1v-1h-1v-1h-1v-1h1v-1h1zM1107 390h1v1h1v1h1v1h-1v1h-1v1h-1v-1h-1v-1h-1v-1h1v-1h1zM1108 390h1v1h1v1h1v1h-1v1h-1v1h-1v-1h-1v-1h-1v-1h1v-1h1zM1109 390h1v1h1v1h1v1h-1v1h-1v1h-1v-1h-1v-1h-1v-1h1v-1h1zM1110 390h1v1h1v1h1v1h-1v1h-1v1h-1v-1h-1v-1h-1v-1h1v-1h1zM1111 390h1v1h1v1h1v1h-1v1h-1v1h-1v-1h-1v-1h-1v-1h1v-1h1zM1112 390h1v1h1v1h1v1h-1v1h-1v1h-1v-1h-1v-1h-1v-1h1v-1h1zM1113 390h1v1h1v1h1v1h-1v1h-1v1h-1v-1h-1v-1h-1v-1h1v-1h1zM1114 390h1v1h1v1h1v1h-1v1h-1v1h-1v-1h-1v-1h-1v-1h1v-1h1zM1115 414h1v1h1v1h1v1h-1v1h-1v1h-1v-1h-1v-1h-1v-1h1v-1h1zM1116 414h1v1h1v1h1v1h-1v1h-1v1h-1v-1h-1v-1h-1v-1h1v-1h1zM1117 413h1v1h1v1h1v1h-1v1h-1v1h-1v-1h-1v-1h-1v-1h1v-1h1zM1118 413h1v1h1v1h1v1h-1v1h-1v1h-1v-1h-1v-1h-1v-1h1v-1h1zM1119 413h1v1h1v1h1v1h-1v1h-1v1h-1v-1h-1v-1h-1v-1h1v-1h1zM1120 413h1v1h1v1h1v1h-1v1h-1v1h-1v-1h-1v-1h-1v-1h1v-1h1zM1121 413h1v1h1v1h1v1h-1v1h-1v1h-1v-1h-1v-1h-1v-1h1v-1h1zM1122 413h1v1h1v1h1v1h-1v1h-1v1h-1v-1h-1v-1h-1v-1h1v-1h1zM1123 427h1v1h1v1h1v1h-1v1h-1v1h-1v-1h-1v-1h-1v-1h1v-1h1zM1124 427h1v1h1v1h1v1h-1v1h-1v1h-1v-1h-1v-1h-1v-1h1v-1h1zM1125 427h1v1h1v1h1v1h-1v1h-1v1h-1v-1h-1v-1h-1v-1h1v-1h1zM1126 427h1v1h1v1h1v1h-1v1h-1v1h-1v-1h-1v-1h-1v-1h1v-1h1zM1127 427h1v1h1v1h1v1h-1v1h-1v1h-1v-1h-1v-1h-1v-1h1v-1h1zM1128 427h1v1h1v1h1v1h-1v1h-1v1h-1v-1h-1v-1h-1v-1h1v-1h1zM1129 427h1v1h1v1h1v1h-1v1h-1v1h-1v-1h-1v-1h-1v-1h1v-1h1zM1130 427h1v1h1v1h1v1h-1v1h-1v1h-1v-1h-1v-1h-1v-1h1v-1h1zM1131 427h1v1h1v1h1v1h-1v1h-1v1h-1v-1h-1v-1h-1v-1h1v-1h1z" fill="#0a70c4" shape-rendering="crispEdges"/>
<path d="M70 182.5 L80.5 182.5 L82 178.5 L85.5 177.5 L87.5 231 L90 212 L92 209 L97.5 205.5 L100 187 L105.5 176 L109.5 224 L112 205 L113.5 196.5 L117 251 L119 235 L120 255 L122.5 266 L125 298 L129.5 242 L131 266 L135 253 L139 275 L141.5 313 L142 310.5 L145.5 321 L148 321 L150 330 C150.7 334 151.2 341.4 152 345 C152.8 348.6 153.8 350 154.5 351.5 C155.2 353 155.7 351.4 156.5 354 C157.3 356.6 158.5 361.9 159.5 367 C160.5 372.1 161.8 380.3 162.5 384.5 C163.2 388.7 162.8 391.1 163.5 392 C164.2 392.9 165.8 390.2 166.5 390 C167.2 389.8 167.4 389.2 168 390.5 C168.6 391.8 168.8 400.2 170 398 C171.2 395.8 173.9 380.4 175 377 C176.1 373.6 175.7 376.5 176.5 377.5 C177.3 378.5 178.8 380.9 180 383 C181.2 385.1 182.7 386.8 184 390 C185.3 393.2 186.9 400.4 188 402 C189.1 403.6 189.5 399.4 190.5 399.5 C191.5 399.6 193 401.3 194 402.5 C195 403.7 195.7 406.3 196.5 406.5 C197.3 406.7 198 403.2 199 403.5 C200 403.8 201.5 407.8 202.5 408.5 C203.5 409.2 204 410.2 205 408 C206 405.8 207.7 396.5 208.5 395 C209.3 393.5 209.4 399.2 210 399 C210.6 398.8 210.6 395.8 212 394 C213.4 392.2 217 387.9 218.5 388.5 C220 389.1 219.8 395.2 221 397.5 C222.2 399.8 224.3 401 225.5 402 C226.7 403 227.2 402.6 228 403.5 C228.8 404.4 229.7 407.8 230.5 407.5 C231.3 407.2 231.9 403.1 233 401.5 C234.1 399.9 235.8 399.4 237 398 C238.2 396.6 239 394.8 240 393 C241 391.2 241.5 388.5 243 387 C244.5 385.5 247.2 386.2 249 384 C250.8 381.8 252.5 375.3 254 374 C255.5 372.7 256.7 375.5 258 376 C259.3 376.5 260.7 373 262 377 C263.3 381 265 395.8 266 400 C267 404.2 267 402.3 268 402 C269 401.7 270.5 400.2 272 398 C273.5 395.8 275.7 392 277 389 C278.3 386 279 381 280 380 C281 379 281.7 380 283 383 C284.3 386 286.7 393 288 398 C289.3 403 290.2 409.7 291 413 C291.8 416.3 292.2 417.8 293 418 C293.8 418.2 294.8 415.2 296 414 C297.2 412.8 298 411.8 300 411 C302 410.2 305.7 408.8 308 409 C310.3 409.2 312.3 411.8 314 412 C315.7 412.2 316.3 410.2 318 410 C319.7 409.8 322 411.2 324 411 C326 410.8 328 410.2 330 409 C332 407.8 334 405.2 336 404 C338 402.8 340 402.5 342 402 C344 401.5 346.3 403 348 401 C349.7 399 351 393.3 352 390 C353 386.7 353 382 354 381 C355 380 356.8 383.2 358 384 C359.2 384.8 360 383.7 361 386 C362 388.3 363.2 395 364 398 C364.8 401 365 403.7 366 404 C367 404.3 368.3 401 370 400 C371.7 399 374 399.5 376 398 C378 396.5 380 393.7 382 391 C384 388.3 386.2 386.5 388 382 C389.8 377.5 391.3 365 393 364 C394.7 363 396.2 368.3 398 376 C399.8 383.7 402 405 404 410 C406 415 408.3 406.8 410 406 C411.7 405.2 412.7 404.7 414 405 C415.3 405.3 416.7 407.8 418 408 C419.3 408.2 420.7 407.2 422 406 C423.3 404.8 424.3 402.3 426 401 C427.7 399.7 430.5 398.5 432 398 C433.5 397.5 433.7 401.5 435 398 C436.3 394.5 438.3 384.7 440 377 C441.7 369.3 443 359.2 445 352 C447 344.8 449.8 337.8 452 334 C454.2 330.2 456.3 330.2 458 329 C459.7 327.8 460.3 328.3 462 327 C463.7 325.7 466.3 322.2 468 321 C469.7 319.8 470.7 320.5 472 320 C473.3 319.5 474.7 319.2 476 318 C477.3 316.8 478.7 314.8 480 313 C481.3 311.2 483 307.8 484 307 C485 306.2 484.8 302.8 486 308 C487.2 313.2 489.5 328.2 491 338 C492.5 347.8 493.8 360.2 495 367 C496.2 373.8 496.5 375.8 498 379 C499.5 382.2 502.5 383.8 504 386 C505.5 388.2 506 391 507 392 C508 393 508.8 392.3 510 392 C511.2 391.7 512.2 394.2 514 390 C515.8 385.8 519 370 521 367 C523 364 524 367.7 526 372 C528 376.3 531 391.7 533 393 C535 394.3 536.7 383.8 538 380 C539.3 376.2 539.8 370.8 541 370 C542.2 369.2 543.7 372.3 545 375 C546.3 377.7 547.5 381.8 549 386 C550.5 390.2 552.7 397.8 554 400 C555.3 402.2 555.8 400.7 557 399 C558.2 397.3 559.7 394 561 390 C562.3 386 563.3 379.8 565 375 C566.7 370.2 569.2 361.8 571 361 C572.8 360.2 574.5 366 576 370 C577.5 374 578.7 379.5 580 385 C581.3 390.5 582.8 399.8 584 403 C585.2 406.2 585.7 404.5 587 404 C588.3 403.5 590.2 401.7 592 400 C593.8 398.3 596 395 598 394 C600 393 602 394.2 604 394 C606 393.8 607.7 393.2 610 393 C612.3 392.8 615.3 395.2 618 393 C620.7 390.8 624 384.5 626 380 C628 375.5 628.3 370 630 366 C631.7 362 634.3 358.7 636 356 C637.7 353.3 638 352.2 640 350 C642 347.8 646 343.2 648 343 C650 342.8 650.5 345.2 652 349 C653.5 352.8 655.7 362.5 657 366 C658.3 369.5 658.2 371.2 660 370 C661.8 368.8 665.8 359.5 668 359 C670.2 358.5 672.2 365.7 673 367 C673 368.3 673 366.7 673 367 C673.8 367.3 676.5 371.8 678 369 C679.5 366.2 680.8 354.8 682 350 C683.2 345.2 683.5 343.5 685 340 C686.5 336.5 689.3 329.5 691 329 C692.7 328.5 693.7 333.2 695 337 C696.3 340.8 697.5 347.8 699 352 C700.5 356.2 702.3 362.7 704 362 C705.7 361.3 707.5 352.3 709 348 C710.5 343.7 711.5 334.8 713 336 C714.5 337.2 716.5 349.3 718 355 C719.5 360.7 720.8 364.7 722 370 C723.2 375.3 723.8 384.7 725 387 C726.2 389.3 727.7 384.5 729 384 C730.3 383.5 731.8 383.7 733 384 C734.2 384.3 734.5 387.8 736 386 C737.5 384.2 739.8 379 742 373 C744.2 367 747 350.5 749 350 C751 349.5 752.5 363.5 754 370 C755.5 376.5 756.7 381.3 758 389 C759.3 396.7 760.2 410 762 416 C763.8 422 766.8 423.3 769 425 C771.2 426.7 772.3 426.8 775 426 C777.7 425.2 782.2 421.7 785 420 C787.8 418.3 789.5 417 792 416 C794.5 415 797.5 415.7 800 414 C802.5 412.3 805 408.2 807 406 C809 403.8 809.8 402.2 812 401 C814.2 399.8 817.5 399.5 820 399 C822.5 398.5 824.5 399.7 827 398 C829.5 396.3 832.8 391.2 835 389 C837.2 386.8 838.2 385.2 840 385 C841.8 384.8 843.8 388.7 846 388 C848.2 387.3 850.8 380 853 381 C855.2 382 857 390 859 394 C861 398 862.8 405.7 865 405 C867.2 404.3 869.8 395.5 872 390 C874.2 384.5 876.2 375.8 878 372 C879.8 368.2 881.2 366.5 883 367 C884.8 367.5 887.2 372.3 889 375 C890.8 377.7 892.2 381.2 894 383 C895.8 384.8 897.7 386 900 386 C902.3 386 905.8 384.7 908 383 C910.2 381.3 911.5 378.7 913 376 C914.5 373.3 915.8 368.3 917 367 C918.2 365.7 919 367.2 920 368 C921 368.8 921.7 372.3 923 372 C924.3 371.7 926.5 368 928 366 C929.5 364 930.7 363.3 932 360 C933.3 356.7 934.7 349.3 936 346 C937.3 342.7 938.7 340.2 940 340 C941.3 339.8 942.8 342 944 345 C945.2 348 945.8 353.5 947 358 C948.2 362.5 949.3 368.8 951 372 C952.7 375.2 955.2 377.8 957 377 C958.8 376.2 960.2 370.7 962 367 C963.8 363.3 966.5 356.8 968 355 C969.5 353.2 969.7 354.3 971 356 C972.3 357.7 973.8 362.2 976 365 C978.2 367.8 982 373.2 984 373 C986 372.8 986.5 367 988 364 C989.5 361 991.7 356.3 993 355 C994.3 353.7 994.3 353.3 996 356 C997.7 358.7 1001.2 367 1003 371 C1004.8 375 1005.7 377.5 1007 380 C1008.3 382.5 1009.7 385.5 1011 386 C1012.3 386.5 1013.5 384.7 1015 383 C1016.5 381.3 1018.5 377.7 1020 376 C1021.5 374.3 1022.5 373.7 1024 373 C1025.5 372.3 1027.3 373.5 1029 372 C1030.7 370.5 1032.5 365.2 1034 364 C1035.5 362.8 1036.7 362.7 1038 365 C1039.3 367.3 1040.7 374.2 1042 378 C1043.3 381.8 1044.7 385.3 1046 388 C1047.3 390.7 1048.3 393.8 1050 394 C1051.7 394.2 1054 390.3 1056 389 C1058 387.7 1060 385.7 1062 386 C1064 386.3 1066 388.8 1068 391 C1070 393.2 1071.8 396.2 1074 399 C1076.2 401.8 1078.5 408 1081 408 C1083.5 408 1086.2 401.8 1089 399 C1091.8 396.2 1095.3 393.3 1098 391 C1100.7 388.7 1102.7 385.5 1105 385 C1107.3 384.5 1110 386.2 1112 388 C1114 389.8 1115.2 392.5 1117 396 C1118.8 399.5 1121.3 405 1123 409 C1124.7 413 1125.7 417.7 1127 420 C1128.3 422.3 1130.3 422.5 1131 423" fill="none" stroke="#e8820c" stroke-width="1" stroke-linejoin="round" shape-rendering="crispEdges"/>
<text class="t" transform="translate(9.5 71) scale(0.967 1)">9,765.90 EUR</text>
<text class="t" transform="translate(9.5 441) scale(0.967 1)">162.86 EUR</text>
<text class="t" transform="translate(69.5 471) scale(0.967 1)">2024-10-14</text>
<text class="t" transform="translate(559.5 471) scale(0.967 1)">2025-09-16</text>
<text class="t" transform="translate(1049.5 471) scale(0.967 1)">2025-11-23</text>
<text class="w" transform="translate(69.5 491) scale(0.909 1)">Wizzper.de – (B0CS3NM9NK)</text>
</svg>
</body></html>
